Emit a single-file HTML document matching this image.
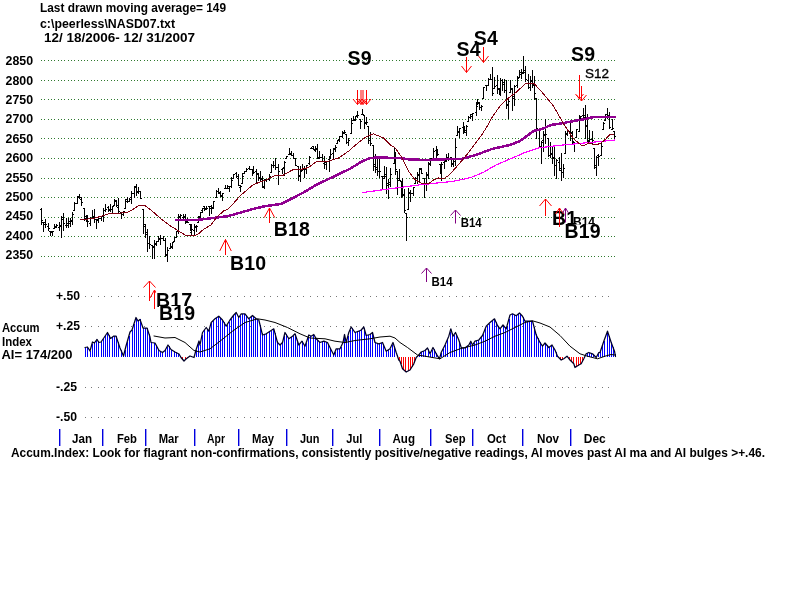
<!DOCTYPE html><html><head><meta charset="utf-8"><title>Peerless NASD07 chart</title>
<style>html,body{margin:0;padding:0;background:#fff;overflow:hidden}svg{display:block;position:absolute;left:0;top:0}text{font-family:"Liberation Sans",Arial,sans-serif;fill:#000}.b{font-weight:bold;font-size:13px}.big{font-weight:bold;font-size:19.5px;letter-spacing:0.15px}.s{font-weight:bold;font-size:12px}</style></head><body>
<svg width="800" height="600" viewBox="0 0 800 600">
<rect width="800" height="600" fill="#fff"/>
<path fill="#2f7a2f" shape-rendering="crispEdges" d="M41 60h1v1h-1zM41 80h1v1h-1zM41 99h1v1h-1zM41 119h1v1h-1zM41 138h1v1h-1zM41 158h1v1h-1zM41 178h1v1h-1zM41 197h1v1h-1zM41 217h1v1h-1zM41 236h1v1h-1zM41 256h1v1h-1zM44 60h1v1h-1zM44 80h1v1h-1zM44 99h1v1h-1zM44 119h1v1h-1zM44 138h1v1h-1zM44 158h1v1h-1zM44 178h1v1h-1zM44 197h1v1h-1zM44 217h1v1h-1zM44 236h1v1h-1zM44 256h1v1h-1zM48 60h1v1h-1zM48 80h1v1h-1zM48 99h1v1h-1zM48 119h1v1h-1zM48 138h1v1h-1zM48 158h1v1h-1zM48 178h1v1h-1zM48 197h1v1h-1zM48 217h1v1h-1zM48 236h1v1h-1zM48 256h1v1h-1zM51 60h1v1h-1zM51 80h1v1h-1zM51 99h1v1h-1zM51 119h1v1h-1zM51 138h1v1h-1zM51 158h1v1h-1zM51 178h1v1h-1zM51 197h1v1h-1zM51 217h1v1h-1zM51 236h1v1h-1zM51 256h1v1h-1zM54 60h1v1h-1zM54 80h1v1h-1zM54 99h1v1h-1zM54 119h1v1h-1zM54 138h1v1h-1zM54 158h1v1h-1zM54 178h1v1h-1zM54 197h1v1h-1zM54 217h1v1h-1zM54 236h1v1h-1zM54 256h1v1h-1zM58 60h1v1h-1zM58 80h1v1h-1zM58 99h1v1h-1zM58 119h1v1h-1zM58 138h1v1h-1zM58 158h1v1h-1zM58 178h1v1h-1zM58 197h1v1h-1zM58 217h1v1h-1zM58 236h1v1h-1zM58 256h1v1h-1zM61 60h1v1h-1zM61 80h1v1h-1zM61 99h1v1h-1zM61 119h1v1h-1zM61 138h1v1h-1zM61 158h1v1h-1zM61 178h1v1h-1zM61 197h1v1h-1zM61 217h1v1h-1zM61 236h1v1h-1zM61 256h1v1h-1zM64 60h1v1h-1zM64 80h1v1h-1zM64 99h1v1h-1zM64 119h1v1h-1zM64 138h1v1h-1zM64 158h1v1h-1zM64 178h1v1h-1zM64 197h1v1h-1zM64 217h1v1h-1zM64 236h1v1h-1zM64 256h1v1h-1zM68 60h1v1h-1zM68 80h1v1h-1zM68 99h1v1h-1zM68 119h1v1h-1zM68 138h1v1h-1zM68 158h1v1h-1zM68 178h1v1h-1zM68 197h1v1h-1zM68 217h1v1h-1zM68 236h1v1h-1zM68 256h1v1h-1zM71 60h1v1h-1zM71 80h1v1h-1zM71 99h1v1h-1zM71 119h1v1h-1zM71 138h1v1h-1zM71 158h1v1h-1zM71 178h1v1h-1zM71 197h1v1h-1zM71 217h1v1h-1zM71 236h1v1h-1zM71 256h1v1h-1zM74 60h1v1h-1zM74 80h1v1h-1zM74 99h1v1h-1zM74 119h1v1h-1zM74 138h1v1h-1zM74 158h1v1h-1zM74 178h1v1h-1zM74 197h1v1h-1zM74 217h1v1h-1zM74 236h1v1h-1zM74 256h1v1h-1zM78 60h1v1h-1zM78 80h1v1h-1zM78 99h1v1h-1zM78 119h1v1h-1zM78 138h1v1h-1zM78 158h1v1h-1zM78 178h1v1h-1zM78 197h1v1h-1zM78 217h1v1h-1zM78 236h1v1h-1zM78 256h1v1h-1zM81 60h1v1h-1zM81 80h1v1h-1zM81 99h1v1h-1zM81 119h1v1h-1zM81 138h1v1h-1zM81 158h1v1h-1zM81 178h1v1h-1zM81 197h1v1h-1zM81 217h1v1h-1zM81 236h1v1h-1zM81 256h1v1h-1zM84 60h1v1h-1zM84 80h1v1h-1zM84 99h1v1h-1zM84 119h1v1h-1zM84 138h1v1h-1zM84 158h1v1h-1zM84 178h1v1h-1zM84 197h1v1h-1zM84 217h1v1h-1zM84 236h1v1h-1zM84 256h1v1h-1zM87 60h1v1h-1zM87 80h1v1h-1zM87 99h1v1h-1zM87 119h1v1h-1zM87 138h1v1h-1zM87 158h1v1h-1zM87 178h1v1h-1zM87 197h1v1h-1zM87 217h1v1h-1zM87 236h1v1h-1zM87 256h1v1h-1zM91 60h1v1h-1zM91 80h1v1h-1zM91 99h1v1h-1zM91 119h1v1h-1zM91 138h1v1h-1zM91 158h1v1h-1zM91 178h1v1h-1zM91 197h1v1h-1zM91 217h1v1h-1zM91 236h1v1h-1zM91 256h1v1h-1zM94 60h1v1h-1zM94 80h1v1h-1zM94 99h1v1h-1zM94 119h1v1h-1zM94 138h1v1h-1zM94 158h1v1h-1zM94 178h1v1h-1zM94 197h1v1h-1zM94 217h1v1h-1zM94 236h1v1h-1zM94 256h1v1h-1zM97 60h1v1h-1zM97 80h1v1h-1zM97 99h1v1h-1zM97 119h1v1h-1zM97 138h1v1h-1zM97 158h1v1h-1zM97 178h1v1h-1zM97 197h1v1h-1zM97 217h1v1h-1zM97 236h1v1h-1zM97 256h1v1h-1zM101 60h1v1h-1zM101 80h1v1h-1zM101 99h1v1h-1zM101 119h1v1h-1zM101 138h1v1h-1zM101 158h1v1h-1zM101 178h1v1h-1zM101 197h1v1h-1zM101 217h1v1h-1zM101 236h1v1h-1zM101 256h1v1h-1zM104 60h1v1h-1zM104 80h1v1h-1zM104 99h1v1h-1zM104 119h1v1h-1zM104 138h1v1h-1zM104 158h1v1h-1zM104 178h1v1h-1zM104 197h1v1h-1zM104 217h1v1h-1zM104 236h1v1h-1zM104 256h1v1h-1zM107 60h1v1h-1zM107 80h1v1h-1zM107 99h1v1h-1zM107 119h1v1h-1zM107 138h1v1h-1zM107 158h1v1h-1zM107 178h1v1h-1zM107 197h1v1h-1zM107 217h1v1h-1zM107 236h1v1h-1zM107 256h1v1h-1zM111 60h1v1h-1zM111 80h1v1h-1zM111 99h1v1h-1zM111 119h1v1h-1zM111 138h1v1h-1zM111 158h1v1h-1zM111 178h1v1h-1zM111 197h1v1h-1zM111 217h1v1h-1zM111 236h1v1h-1zM111 256h1v1h-1zM114 60h1v1h-1zM114 80h1v1h-1zM114 99h1v1h-1zM114 119h1v1h-1zM114 138h1v1h-1zM114 158h1v1h-1zM114 178h1v1h-1zM114 197h1v1h-1zM114 217h1v1h-1zM114 236h1v1h-1zM114 256h1v1h-1zM117 60h1v1h-1zM117 80h1v1h-1zM117 99h1v1h-1zM117 119h1v1h-1zM117 138h1v1h-1zM117 158h1v1h-1zM117 178h1v1h-1zM117 197h1v1h-1zM117 217h1v1h-1zM117 236h1v1h-1zM117 256h1v1h-1zM121 60h1v1h-1zM121 80h1v1h-1zM121 99h1v1h-1zM121 119h1v1h-1zM121 138h1v1h-1zM121 158h1v1h-1zM121 178h1v1h-1zM121 197h1v1h-1zM121 217h1v1h-1zM121 236h1v1h-1zM121 256h1v1h-1zM124 60h1v1h-1zM124 80h1v1h-1zM124 99h1v1h-1zM124 119h1v1h-1zM124 138h1v1h-1zM124 158h1v1h-1zM124 178h1v1h-1zM124 197h1v1h-1zM124 217h1v1h-1zM124 236h1v1h-1zM124 256h1v1h-1zM127 60h1v1h-1zM127 80h1v1h-1zM127 99h1v1h-1zM127 119h1v1h-1zM127 138h1v1h-1zM127 158h1v1h-1zM127 178h1v1h-1zM127 197h1v1h-1zM127 217h1v1h-1zM127 236h1v1h-1zM127 256h1v1h-1zM131 60h1v1h-1zM131 80h1v1h-1zM131 99h1v1h-1zM131 119h1v1h-1zM131 138h1v1h-1zM131 158h1v1h-1zM131 178h1v1h-1zM131 197h1v1h-1zM131 217h1v1h-1zM131 236h1v1h-1zM131 256h1v1h-1zM134 60h1v1h-1zM134 80h1v1h-1zM134 99h1v1h-1zM134 119h1v1h-1zM134 138h1v1h-1zM134 158h1v1h-1zM134 178h1v1h-1zM134 197h1v1h-1zM134 217h1v1h-1zM134 236h1v1h-1zM134 256h1v1h-1zM137 60h1v1h-1zM137 80h1v1h-1zM137 99h1v1h-1zM137 119h1v1h-1zM137 138h1v1h-1zM137 158h1v1h-1zM137 178h1v1h-1zM137 197h1v1h-1zM137 217h1v1h-1zM137 236h1v1h-1zM137 256h1v1h-1zM140 60h1v1h-1zM140 80h1v1h-1zM140 99h1v1h-1zM140 119h1v1h-1zM140 138h1v1h-1zM140 158h1v1h-1zM140 178h1v1h-1zM140 197h1v1h-1zM140 217h1v1h-1zM140 236h1v1h-1zM140 256h1v1h-1zM144 60h1v1h-1zM144 80h1v1h-1zM144 99h1v1h-1zM144 119h1v1h-1zM144 138h1v1h-1zM144 158h1v1h-1zM144 178h1v1h-1zM144 197h1v1h-1zM144 217h1v1h-1zM144 236h1v1h-1zM144 256h1v1h-1zM147 60h1v1h-1zM147 80h1v1h-1zM147 99h1v1h-1zM147 119h1v1h-1zM147 138h1v1h-1zM147 158h1v1h-1zM147 178h1v1h-1zM147 197h1v1h-1zM147 217h1v1h-1zM147 236h1v1h-1zM147 256h1v1h-1zM150 60h1v1h-1zM150 80h1v1h-1zM150 99h1v1h-1zM150 119h1v1h-1zM150 138h1v1h-1zM150 158h1v1h-1zM150 178h1v1h-1zM150 197h1v1h-1zM150 217h1v1h-1zM150 236h1v1h-1zM150 256h1v1h-1zM154 60h1v1h-1zM154 80h1v1h-1zM154 99h1v1h-1zM154 119h1v1h-1zM154 138h1v1h-1zM154 158h1v1h-1zM154 178h1v1h-1zM154 197h1v1h-1zM154 217h1v1h-1zM154 236h1v1h-1zM154 256h1v1h-1zM157 60h1v1h-1zM157 80h1v1h-1zM157 99h1v1h-1zM157 119h1v1h-1zM157 138h1v1h-1zM157 158h1v1h-1zM157 178h1v1h-1zM157 197h1v1h-1zM157 217h1v1h-1zM157 236h1v1h-1zM157 256h1v1h-1zM160 60h1v1h-1zM160 80h1v1h-1zM160 99h1v1h-1zM160 119h1v1h-1zM160 138h1v1h-1zM160 158h1v1h-1zM160 178h1v1h-1zM160 197h1v1h-1zM160 217h1v1h-1zM160 236h1v1h-1zM160 256h1v1h-1zM164 60h1v1h-1zM164 80h1v1h-1zM164 99h1v1h-1zM164 119h1v1h-1zM164 138h1v1h-1zM164 158h1v1h-1zM164 178h1v1h-1zM164 197h1v1h-1zM164 217h1v1h-1zM164 236h1v1h-1zM164 256h1v1h-1zM167 60h1v1h-1zM167 80h1v1h-1zM167 99h1v1h-1zM167 119h1v1h-1zM167 138h1v1h-1zM167 158h1v1h-1zM167 178h1v1h-1zM167 197h1v1h-1zM167 217h1v1h-1zM167 236h1v1h-1zM167 256h1v1h-1zM170 60h1v1h-1zM170 80h1v1h-1zM170 99h1v1h-1zM170 119h1v1h-1zM170 138h1v1h-1zM170 158h1v1h-1zM170 178h1v1h-1zM170 197h1v1h-1zM170 217h1v1h-1zM170 236h1v1h-1zM170 256h1v1h-1zM174 60h1v1h-1zM174 80h1v1h-1zM174 99h1v1h-1zM174 119h1v1h-1zM174 138h1v1h-1zM174 158h1v1h-1zM174 178h1v1h-1zM174 197h1v1h-1zM174 217h1v1h-1zM174 236h1v1h-1zM174 256h1v1h-1zM177 60h1v1h-1zM177 80h1v1h-1zM177 99h1v1h-1zM177 119h1v1h-1zM177 138h1v1h-1zM177 158h1v1h-1zM177 178h1v1h-1zM177 197h1v1h-1zM177 217h1v1h-1zM177 236h1v1h-1zM177 256h1v1h-1zM180 60h1v1h-1zM180 80h1v1h-1zM180 99h1v1h-1zM180 119h1v1h-1zM180 138h1v1h-1zM180 158h1v1h-1zM180 178h1v1h-1zM180 197h1v1h-1zM180 217h1v1h-1zM180 236h1v1h-1zM180 256h1v1h-1zM184 60h1v1h-1zM184 80h1v1h-1zM184 99h1v1h-1zM184 119h1v1h-1zM184 138h1v1h-1zM184 158h1v1h-1zM184 178h1v1h-1zM184 197h1v1h-1zM184 217h1v1h-1zM184 236h1v1h-1zM184 256h1v1h-1zM187 60h1v1h-1zM187 80h1v1h-1zM187 99h1v1h-1zM187 119h1v1h-1zM187 138h1v1h-1zM187 158h1v1h-1zM187 178h1v1h-1zM187 197h1v1h-1zM187 217h1v1h-1zM187 236h1v1h-1zM187 256h1v1h-1zM190 60h1v1h-1zM190 80h1v1h-1zM190 99h1v1h-1zM190 119h1v1h-1zM190 138h1v1h-1zM190 158h1v1h-1zM190 178h1v1h-1zM190 197h1v1h-1zM190 217h1v1h-1zM190 236h1v1h-1zM190 256h1v1h-1zM193 60h1v1h-1zM193 80h1v1h-1zM193 99h1v1h-1zM193 119h1v1h-1zM193 138h1v1h-1zM193 158h1v1h-1zM193 178h1v1h-1zM193 197h1v1h-1zM193 217h1v1h-1zM193 236h1v1h-1zM193 256h1v1h-1zM197 60h1v1h-1zM197 80h1v1h-1zM197 99h1v1h-1zM197 119h1v1h-1zM197 138h1v1h-1zM197 158h1v1h-1zM197 178h1v1h-1zM197 197h1v1h-1zM197 217h1v1h-1zM197 236h1v1h-1zM197 256h1v1h-1zM200 60h1v1h-1zM200 80h1v1h-1zM200 99h1v1h-1zM200 119h1v1h-1zM200 138h1v1h-1zM200 158h1v1h-1zM200 178h1v1h-1zM200 197h1v1h-1zM200 217h1v1h-1zM200 236h1v1h-1zM200 256h1v1h-1zM203 60h1v1h-1zM203 80h1v1h-1zM203 99h1v1h-1zM203 119h1v1h-1zM203 138h1v1h-1zM203 158h1v1h-1zM203 178h1v1h-1zM203 197h1v1h-1zM203 217h1v1h-1zM203 236h1v1h-1zM203 256h1v1h-1zM207 60h1v1h-1zM207 80h1v1h-1zM207 99h1v1h-1zM207 119h1v1h-1zM207 138h1v1h-1zM207 158h1v1h-1zM207 178h1v1h-1zM207 197h1v1h-1zM207 217h1v1h-1zM207 236h1v1h-1zM207 256h1v1h-1zM210 60h1v1h-1zM210 80h1v1h-1zM210 99h1v1h-1zM210 119h1v1h-1zM210 138h1v1h-1zM210 158h1v1h-1zM210 178h1v1h-1zM210 197h1v1h-1zM210 217h1v1h-1zM210 236h1v1h-1zM210 256h1v1h-1zM213 60h1v1h-1zM213 80h1v1h-1zM213 99h1v1h-1zM213 119h1v1h-1zM213 138h1v1h-1zM213 158h1v1h-1zM213 178h1v1h-1zM213 197h1v1h-1zM213 217h1v1h-1zM213 236h1v1h-1zM213 256h1v1h-1zM217 60h1v1h-1zM217 80h1v1h-1zM217 99h1v1h-1zM217 119h1v1h-1zM217 138h1v1h-1zM217 158h1v1h-1zM217 178h1v1h-1zM217 197h1v1h-1zM217 217h1v1h-1zM217 236h1v1h-1zM217 256h1v1h-1zM220 60h1v1h-1zM220 80h1v1h-1zM220 99h1v1h-1zM220 119h1v1h-1zM220 138h1v1h-1zM220 158h1v1h-1zM220 178h1v1h-1zM220 197h1v1h-1zM220 217h1v1h-1zM220 236h1v1h-1zM220 256h1v1h-1zM223 60h1v1h-1zM223 80h1v1h-1zM223 99h1v1h-1zM223 119h1v1h-1zM223 138h1v1h-1zM223 158h1v1h-1zM223 178h1v1h-1zM223 197h1v1h-1zM223 217h1v1h-1zM223 236h1v1h-1zM223 256h1v1h-1zM227 60h1v1h-1zM227 80h1v1h-1zM227 99h1v1h-1zM227 119h1v1h-1zM227 138h1v1h-1zM227 158h1v1h-1zM227 178h1v1h-1zM227 197h1v1h-1zM227 217h1v1h-1zM227 236h1v1h-1zM227 256h1v1h-1zM230 60h1v1h-1zM230 80h1v1h-1zM230 99h1v1h-1zM230 119h1v1h-1zM230 138h1v1h-1zM230 158h1v1h-1zM230 178h1v1h-1zM230 197h1v1h-1zM230 217h1v1h-1zM230 236h1v1h-1zM230 256h1v1h-1zM233 60h1v1h-1zM233 80h1v1h-1zM233 99h1v1h-1zM233 119h1v1h-1zM233 138h1v1h-1zM233 158h1v1h-1zM233 178h1v1h-1zM233 197h1v1h-1zM233 217h1v1h-1zM233 236h1v1h-1zM233 256h1v1h-1zM237 60h1v1h-1zM237 80h1v1h-1zM237 99h1v1h-1zM237 119h1v1h-1zM237 138h1v1h-1zM237 158h1v1h-1zM237 178h1v1h-1zM237 197h1v1h-1zM237 217h1v1h-1zM237 236h1v1h-1zM237 256h1v1h-1zM240 60h1v1h-1zM240 80h1v1h-1zM240 99h1v1h-1zM240 119h1v1h-1zM240 138h1v1h-1zM240 158h1v1h-1zM240 178h1v1h-1zM240 197h1v1h-1zM240 217h1v1h-1zM240 236h1v1h-1zM240 256h1v1h-1zM243 60h1v1h-1zM243 80h1v1h-1zM243 99h1v1h-1zM243 119h1v1h-1zM243 138h1v1h-1zM243 158h1v1h-1zM243 178h1v1h-1zM243 197h1v1h-1zM243 217h1v1h-1zM243 236h1v1h-1zM243 256h1v1h-1zM247 60h1v1h-1zM247 80h1v1h-1zM247 99h1v1h-1zM247 119h1v1h-1zM247 138h1v1h-1zM247 158h1v1h-1zM247 178h1v1h-1zM247 197h1v1h-1zM247 217h1v1h-1zM247 236h1v1h-1zM247 256h1v1h-1zM250 60h1v1h-1zM250 80h1v1h-1zM250 99h1v1h-1zM250 119h1v1h-1zM250 138h1v1h-1zM250 158h1v1h-1zM250 178h1v1h-1zM250 197h1v1h-1zM250 217h1v1h-1zM250 236h1v1h-1zM250 256h1v1h-1zM253 60h1v1h-1zM253 80h1v1h-1zM253 99h1v1h-1zM253 119h1v1h-1zM253 138h1v1h-1zM253 158h1v1h-1zM253 178h1v1h-1zM253 197h1v1h-1zM253 217h1v1h-1zM253 236h1v1h-1zM253 256h1v1h-1zM256 60h1v1h-1zM256 80h1v1h-1zM256 99h1v1h-1zM256 119h1v1h-1zM256 138h1v1h-1zM256 158h1v1h-1zM256 178h1v1h-1zM256 197h1v1h-1zM256 217h1v1h-1zM256 236h1v1h-1zM256 256h1v1h-1zM260 60h1v1h-1zM260 80h1v1h-1zM260 99h1v1h-1zM260 119h1v1h-1zM260 138h1v1h-1zM260 158h1v1h-1zM260 178h1v1h-1zM260 197h1v1h-1zM260 217h1v1h-1zM260 236h1v1h-1zM260 256h1v1h-1zM263 60h1v1h-1zM263 80h1v1h-1zM263 99h1v1h-1zM263 119h1v1h-1zM263 138h1v1h-1zM263 158h1v1h-1zM263 178h1v1h-1zM263 197h1v1h-1zM263 217h1v1h-1zM263 236h1v1h-1zM263 256h1v1h-1zM266 60h1v1h-1zM266 80h1v1h-1zM266 99h1v1h-1zM266 119h1v1h-1zM266 138h1v1h-1zM266 158h1v1h-1zM266 178h1v1h-1zM266 197h1v1h-1zM266 217h1v1h-1zM266 236h1v1h-1zM266 256h1v1h-1zM270 60h1v1h-1zM270 80h1v1h-1zM270 99h1v1h-1zM270 119h1v1h-1zM270 138h1v1h-1zM270 158h1v1h-1zM270 178h1v1h-1zM270 197h1v1h-1zM270 217h1v1h-1zM270 236h1v1h-1zM270 256h1v1h-1zM273 60h1v1h-1zM273 80h1v1h-1zM273 99h1v1h-1zM273 119h1v1h-1zM273 138h1v1h-1zM273 158h1v1h-1zM273 178h1v1h-1zM273 197h1v1h-1zM273 217h1v1h-1zM273 236h1v1h-1zM273 256h1v1h-1zM276 60h1v1h-1zM276 80h1v1h-1zM276 99h1v1h-1zM276 119h1v1h-1zM276 138h1v1h-1zM276 158h1v1h-1zM276 178h1v1h-1zM276 197h1v1h-1zM276 217h1v1h-1zM276 236h1v1h-1zM276 256h1v1h-1zM280 60h1v1h-1zM280 80h1v1h-1zM280 99h1v1h-1zM280 119h1v1h-1zM280 138h1v1h-1zM280 158h1v1h-1zM280 178h1v1h-1zM280 197h1v1h-1zM280 217h1v1h-1zM280 236h1v1h-1zM280 256h1v1h-1zM283 60h1v1h-1zM283 80h1v1h-1zM283 99h1v1h-1zM283 119h1v1h-1zM283 138h1v1h-1zM283 158h1v1h-1zM283 178h1v1h-1zM283 197h1v1h-1zM283 217h1v1h-1zM283 236h1v1h-1zM283 256h1v1h-1zM286 60h1v1h-1zM286 80h1v1h-1zM286 99h1v1h-1zM286 119h1v1h-1zM286 138h1v1h-1zM286 158h1v1h-1zM286 178h1v1h-1zM286 197h1v1h-1zM286 217h1v1h-1zM286 236h1v1h-1zM286 256h1v1h-1zM290 60h1v1h-1zM290 80h1v1h-1zM290 99h1v1h-1zM290 119h1v1h-1zM290 138h1v1h-1zM290 158h1v1h-1zM290 178h1v1h-1zM290 197h1v1h-1zM290 217h1v1h-1zM290 236h1v1h-1zM290 256h1v1h-1zM293 60h1v1h-1zM293 80h1v1h-1zM293 99h1v1h-1zM293 119h1v1h-1zM293 138h1v1h-1zM293 158h1v1h-1zM293 178h1v1h-1zM293 197h1v1h-1zM293 217h1v1h-1zM293 236h1v1h-1zM293 256h1v1h-1zM296 60h1v1h-1zM296 80h1v1h-1zM296 99h1v1h-1zM296 119h1v1h-1zM296 138h1v1h-1zM296 158h1v1h-1zM296 178h1v1h-1zM296 197h1v1h-1zM296 217h1v1h-1zM296 236h1v1h-1zM296 256h1v1h-1zM300 60h1v1h-1zM300 80h1v1h-1zM300 99h1v1h-1zM300 119h1v1h-1zM300 138h1v1h-1zM300 158h1v1h-1zM300 178h1v1h-1zM300 197h1v1h-1zM300 217h1v1h-1zM300 236h1v1h-1zM300 256h1v1h-1zM303 60h1v1h-1zM303 80h1v1h-1zM303 99h1v1h-1zM303 119h1v1h-1zM303 138h1v1h-1zM303 158h1v1h-1zM303 178h1v1h-1zM303 197h1v1h-1zM303 217h1v1h-1zM303 236h1v1h-1zM303 256h1v1h-1zM306 60h1v1h-1zM306 80h1v1h-1zM306 99h1v1h-1zM306 119h1v1h-1zM306 138h1v1h-1zM306 158h1v1h-1zM306 178h1v1h-1zM306 197h1v1h-1zM306 217h1v1h-1zM306 236h1v1h-1zM306 256h1v1h-1zM309 60h1v1h-1zM309 80h1v1h-1zM309 99h1v1h-1zM309 119h1v1h-1zM309 138h1v1h-1zM309 158h1v1h-1zM309 178h1v1h-1zM309 197h1v1h-1zM309 217h1v1h-1zM309 236h1v1h-1zM309 256h1v1h-1zM313 60h1v1h-1zM313 80h1v1h-1zM313 99h1v1h-1zM313 119h1v1h-1zM313 138h1v1h-1zM313 158h1v1h-1zM313 178h1v1h-1zM313 197h1v1h-1zM313 217h1v1h-1zM313 236h1v1h-1zM313 256h1v1h-1zM316 60h1v1h-1zM316 80h1v1h-1zM316 99h1v1h-1zM316 119h1v1h-1zM316 138h1v1h-1zM316 158h1v1h-1zM316 178h1v1h-1zM316 197h1v1h-1zM316 217h1v1h-1zM316 236h1v1h-1zM316 256h1v1h-1zM319 60h1v1h-1zM319 80h1v1h-1zM319 99h1v1h-1zM319 119h1v1h-1zM319 138h1v1h-1zM319 158h1v1h-1zM319 178h1v1h-1zM319 197h1v1h-1zM319 217h1v1h-1zM319 236h1v1h-1zM319 256h1v1h-1zM323 60h1v1h-1zM323 80h1v1h-1zM323 99h1v1h-1zM323 119h1v1h-1zM323 138h1v1h-1zM323 158h1v1h-1zM323 178h1v1h-1zM323 197h1v1h-1zM323 217h1v1h-1zM323 236h1v1h-1zM323 256h1v1h-1zM326 60h1v1h-1zM326 80h1v1h-1zM326 99h1v1h-1zM326 119h1v1h-1zM326 138h1v1h-1zM326 158h1v1h-1zM326 178h1v1h-1zM326 197h1v1h-1zM326 217h1v1h-1zM326 236h1v1h-1zM326 256h1v1h-1zM329 60h1v1h-1zM329 80h1v1h-1zM329 99h1v1h-1zM329 119h1v1h-1zM329 138h1v1h-1zM329 158h1v1h-1zM329 178h1v1h-1zM329 197h1v1h-1zM329 217h1v1h-1zM329 236h1v1h-1zM329 256h1v1h-1zM333 60h1v1h-1zM333 80h1v1h-1zM333 99h1v1h-1zM333 119h1v1h-1zM333 138h1v1h-1zM333 158h1v1h-1zM333 178h1v1h-1zM333 197h1v1h-1zM333 217h1v1h-1zM333 236h1v1h-1zM333 256h1v1h-1zM336 60h1v1h-1zM336 80h1v1h-1zM336 99h1v1h-1zM336 119h1v1h-1zM336 138h1v1h-1zM336 158h1v1h-1zM336 178h1v1h-1zM336 197h1v1h-1zM336 217h1v1h-1zM336 236h1v1h-1zM336 256h1v1h-1zM339 60h1v1h-1zM339 80h1v1h-1zM339 99h1v1h-1zM339 119h1v1h-1zM339 138h1v1h-1zM339 158h1v1h-1zM339 178h1v1h-1zM339 197h1v1h-1zM339 217h1v1h-1zM339 236h1v1h-1zM339 256h1v1h-1zM343 60h1v1h-1zM343 80h1v1h-1zM343 99h1v1h-1zM343 119h1v1h-1zM343 138h1v1h-1zM343 158h1v1h-1zM343 178h1v1h-1zM343 197h1v1h-1zM343 217h1v1h-1zM343 236h1v1h-1zM343 256h1v1h-1zM346 60h1v1h-1zM346 80h1v1h-1zM346 99h1v1h-1zM346 119h1v1h-1zM346 138h1v1h-1zM346 158h1v1h-1zM346 178h1v1h-1zM346 197h1v1h-1zM346 217h1v1h-1zM346 236h1v1h-1zM346 256h1v1h-1zM349 60h1v1h-1zM349 80h1v1h-1zM349 99h1v1h-1zM349 119h1v1h-1zM349 138h1v1h-1zM349 158h1v1h-1zM349 178h1v1h-1zM349 197h1v1h-1zM349 217h1v1h-1zM349 236h1v1h-1zM349 256h1v1h-1zM353 60h1v1h-1zM353 80h1v1h-1zM353 99h1v1h-1zM353 119h1v1h-1zM353 138h1v1h-1zM353 158h1v1h-1zM353 178h1v1h-1zM353 197h1v1h-1zM353 217h1v1h-1zM353 236h1v1h-1zM353 256h1v1h-1zM356 60h1v1h-1zM356 80h1v1h-1zM356 99h1v1h-1zM356 119h1v1h-1zM356 138h1v1h-1zM356 158h1v1h-1zM356 178h1v1h-1zM356 197h1v1h-1zM356 217h1v1h-1zM356 236h1v1h-1zM356 256h1v1h-1zM359 60h1v1h-1zM359 80h1v1h-1zM359 99h1v1h-1zM359 119h1v1h-1zM359 138h1v1h-1zM359 158h1v1h-1zM359 178h1v1h-1zM359 197h1v1h-1zM359 217h1v1h-1zM359 236h1v1h-1zM359 256h1v1h-1zM362 60h1v1h-1zM362 80h1v1h-1zM362 99h1v1h-1zM362 119h1v1h-1zM362 138h1v1h-1zM362 158h1v1h-1zM362 178h1v1h-1zM362 197h1v1h-1zM362 217h1v1h-1zM362 236h1v1h-1zM362 256h1v1h-1zM366 60h1v1h-1zM366 80h1v1h-1zM366 99h1v1h-1zM366 119h1v1h-1zM366 138h1v1h-1zM366 158h1v1h-1zM366 178h1v1h-1zM366 197h1v1h-1zM366 217h1v1h-1zM366 236h1v1h-1zM366 256h1v1h-1zM369 60h1v1h-1zM369 80h1v1h-1zM369 99h1v1h-1zM369 119h1v1h-1zM369 138h1v1h-1zM369 158h1v1h-1zM369 178h1v1h-1zM369 197h1v1h-1zM369 217h1v1h-1zM369 236h1v1h-1zM369 256h1v1h-1zM372 60h1v1h-1zM372 80h1v1h-1zM372 99h1v1h-1zM372 119h1v1h-1zM372 138h1v1h-1zM372 158h1v1h-1zM372 178h1v1h-1zM372 197h1v1h-1zM372 217h1v1h-1zM372 236h1v1h-1zM372 256h1v1h-1zM376 60h1v1h-1zM376 80h1v1h-1zM376 99h1v1h-1zM376 119h1v1h-1zM376 138h1v1h-1zM376 158h1v1h-1zM376 178h1v1h-1zM376 197h1v1h-1zM376 217h1v1h-1zM376 236h1v1h-1zM376 256h1v1h-1zM379 60h1v1h-1zM379 80h1v1h-1zM379 99h1v1h-1zM379 119h1v1h-1zM379 138h1v1h-1zM379 158h1v1h-1zM379 178h1v1h-1zM379 197h1v1h-1zM379 217h1v1h-1zM379 236h1v1h-1zM379 256h1v1h-1zM382 60h1v1h-1zM382 80h1v1h-1zM382 99h1v1h-1zM382 119h1v1h-1zM382 138h1v1h-1zM382 158h1v1h-1zM382 178h1v1h-1zM382 197h1v1h-1zM382 217h1v1h-1zM382 236h1v1h-1zM382 256h1v1h-1zM386 60h1v1h-1zM386 80h1v1h-1zM386 99h1v1h-1zM386 119h1v1h-1zM386 138h1v1h-1zM386 158h1v1h-1zM386 178h1v1h-1zM386 197h1v1h-1zM386 217h1v1h-1zM386 236h1v1h-1zM386 256h1v1h-1zM389 60h1v1h-1zM389 80h1v1h-1zM389 99h1v1h-1zM389 119h1v1h-1zM389 138h1v1h-1zM389 158h1v1h-1zM389 178h1v1h-1zM389 197h1v1h-1zM389 217h1v1h-1zM389 236h1v1h-1zM389 256h1v1h-1zM392 60h1v1h-1zM392 80h1v1h-1zM392 99h1v1h-1zM392 119h1v1h-1zM392 138h1v1h-1zM392 158h1v1h-1zM392 178h1v1h-1zM392 197h1v1h-1zM392 217h1v1h-1zM392 236h1v1h-1zM392 256h1v1h-1zM396 60h1v1h-1zM396 80h1v1h-1zM396 99h1v1h-1zM396 119h1v1h-1zM396 138h1v1h-1zM396 158h1v1h-1zM396 178h1v1h-1zM396 197h1v1h-1zM396 217h1v1h-1zM396 236h1v1h-1zM396 256h1v1h-1zM399 60h1v1h-1zM399 80h1v1h-1zM399 99h1v1h-1zM399 119h1v1h-1zM399 138h1v1h-1zM399 158h1v1h-1zM399 178h1v1h-1zM399 197h1v1h-1zM399 217h1v1h-1zM399 236h1v1h-1zM399 256h1v1h-1zM402 60h1v1h-1zM402 80h1v1h-1zM402 99h1v1h-1zM402 119h1v1h-1zM402 138h1v1h-1zM402 158h1v1h-1zM402 178h1v1h-1zM402 197h1v1h-1zM402 217h1v1h-1zM402 236h1v1h-1zM402 256h1v1h-1zM406 60h1v1h-1zM406 80h1v1h-1zM406 99h1v1h-1zM406 119h1v1h-1zM406 138h1v1h-1zM406 158h1v1h-1zM406 178h1v1h-1zM406 197h1v1h-1zM406 217h1v1h-1zM406 236h1v1h-1zM406 256h1v1h-1zM409 60h1v1h-1zM409 80h1v1h-1zM409 99h1v1h-1zM409 119h1v1h-1zM409 138h1v1h-1zM409 158h1v1h-1zM409 178h1v1h-1zM409 197h1v1h-1zM409 217h1v1h-1zM409 236h1v1h-1zM409 256h1v1h-1zM412 60h1v1h-1zM412 80h1v1h-1zM412 99h1v1h-1zM412 119h1v1h-1zM412 138h1v1h-1zM412 158h1v1h-1zM412 178h1v1h-1zM412 197h1v1h-1zM412 217h1v1h-1zM412 236h1v1h-1zM412 256h1v1h-1zM415 60h1v1h-1zM415 80h1v1h-1zM415 99h1v1h-1zM415 119h1v1h-1zM415 138h1v1h-1zM415 158h1v1h-1zM415 178h1v1h-1zM415 197h1v1h-1zM415 217h1v1h-1zM415 236h1v1h-1zM415 256h1v1h-1zM419 60h1v1h-1zM419 80h1v1h-1zM419 99h1v1h-1zM419 119h1v1h-1zM419 138h1v1h-1zM419 158h1v1h-1zM419 178h1v1h-1zM419 197h1v1h-1zM419 217h1v1h-1zM419 236h1v1h-1zM419 256h1v1h-1zM422 60h1v1h-1zM422 80h1v1h-1zM422 99h1v1h-1zM422 119h1v1h-1zM422 138h1v1h-1zM422 158h1v1h-1zM422 178h1v1h-1zM422 197h1v1h-1zM422 217h1v1h-1zM422 236h1v1h-1zM422 256h1v1h-1zM425 60h1v1h-1zM425 80h1v1h-1zM425 99h1v1h-1zM425 119h1v1h-1zM425 138h1v1h-1zM425 158h1v1h-1zM425 178h1v1h-1zM425 197h1v1h-1zM425 217h1v1h-1zM425 236h1v1h-1zM425 256h1v1h-1zM429 60h1v1h-1zM429 80h1v1h-1zM429 99h1v1h-1zM429 119h1v1h-1zM429 138h1v1h-1zM429 158h1v1h-1zM429 178h1v1h-1zM429 197h1v1h-1zM429 217h1v1h-1zM429 236h1v1h-1zM429 256h1v1h-1zM432 60h1v1h-1zM432 80h1v1h-1zM432 99h1v1h-1zM432 119h1v1h-1zM432 138h1v1h-1zM432 158h1v1h-1zM432 178h1v1h-1zM432 197h1v1h-1zM432 217h1v1h-1zM432 236h1v1h-1zM432 256h1v1h-1zM435 60h1v1h-1zM435 80h1v1h-1zM435 99h1v1h-1zM435 119h1v1h-1zM435 138h1v1h-1zM435 158h1v1h-1zM435 178h1v1h-1zM435 197h1v1h-1zM435 217h1v1h-1zM435 236h1v1h-1zM435 256h1v1h-1zM439 60h1v1h-1zM439 80h1v1h-1zM439 99h1v1h-1zM439 119h1v1h-1zM439 138h1v1h-1zM439 158h1v1h-1zM439 178h1v1h-1zM439 197h1v1h-1zM439 217h1v1h-1zM439 236h1v1h-1zM439 256h1v1h-1zM442 60h1v1h-1zM442 80h1v1h-1zM442 99h1v1h-1zM442 119h1v1h-1zM442 138h1v1h-1zM442 158h1v1h-1zM442 178h1v1h-1zM442 197h1v1h-1zM442 217h1v1h-1zM442 236h1v1h-1zM442 256h1v1h-1zM445 60h1v1h-1zM445 80h1v1h-1zM445 99h1v1h-1zM445 119h1v1h-1zM445 138h1v1h-1zM445 158h1v1h-1zM445 178h1v1h-1zM445 197h1v1h-1zM445 217h1v1h-1zM445 236h1v1h-1zM445 256h1v1h-1zM449 60h1v1h-1zM449 80h1v1h-1zM449 99h1v1h-1zM449 119h1v1h-1zM449 138h1v1h-1zM449 158h1v1h-1zM449 178h1v1h-1zM449 197h1v1h-1zM449 217h1v1h-1zM449 236h1v1h-1zM449 256h1v1h-1zM452 60h1v1h-1zM452 80h1v1h-1zM452 99h1v1h-1zM452 119h1v1h-1zM452 138h1v1h-1zM452 158h1v1h-1zM452 178h1v1h-1zM452 197h1v1h-1zM452 217h1v1h-1zM452 236h1v1h-1zM452 256h1v1h-1zM455 60h1v1h-1zM455 80h1v1h-1zM455 99h1v1h-1zM455 119h1v1h-1zM455 138h1v1h-1zM455 158h1v1h-1zM455 178h1v1h-1zM455 197h1v1h-1zM455 217h1v1h-1zM455 236h1v1h-1zM455 256h1v1h-1zM459 60h1v1h-1zM459 80h1v1h-1zM459 99h1v1h-1zM459 119h1v1h-1zM459 138h1v1h-1zM459 158h1v1h-1zM459 178h1v1h-1zM459 197h1v1h-1zM459 217h1v1h-1zM459 236h1v1h-1zM459 256h1v1h-1zM462 60h1v1h-1zM462 80h1v1h-1zM462 99h1v1h-1zM462 119h1v1h-1zM462 138h1v1h-1zM462 158h1v1h-1zM462 178h1v1h-1zM462 197h1v1h-1zM462 217h1v1h-1zM462 236h1v1h-1zM462 256h1v1h-1zM465 60h1v1h-1zM465 80h1v1h-1zM465 99h1v1h-1zM465 119h1v1h-1zM465 138h1v1h-1zM465 158h1v1h-1zM465 178h1v1h-1zM465 197h1v1h-1zM465 217h1v1h-1zM465 236h1v1h-1zM465 256h1v1h-1zM468 60h1v1h-1zM468 80h1v1h-1zM468 99h1v1h-1zM468 119h1v1h-1zM468 138h1v1h-1zM468 158h1v1h-1zM468 178h1v1h-1zM468 197h1v1h-1zM468 217h1v1h-1zM468 236h1v1h-1zM468 256h1v1h-1zM472 60h1v1h-1zM472 80h1v1h-1zM472 99h1v1h-1zM472 119h1v1h-1zM472 138h1v1h-1zM472 158h1v1h-1zM472 178h1v1h-1zM472 197h1v1h-1zM472 217h1v1h-1zM472 236h1v1h-1zM472 256h1v1h-1zM475 60h1v1h-1zM475 80h1v1h-1zM475 99h1v1h-1zM475 119h1v1h-1zM475 138h1v1h-1zM475 158h1v1h-1zM475 178h1v1h-1zM475 197h1v1h-1zM475 217h1v1h-1zM475 236h1v1h-1zM475 256h1v1h-1zM478 60h1v1h-1zM478 80h1v1h-1zM478 99h1v1h-1zM478 119h1v1h-1zM478 138h1v1h-1zM478 158h1v1h-1zM478 178h1v1h-1zM478 197h1v1h-1zM478 217h1v1h-1zM478 236h1v1h-1zM478 256h1v1h-1zM482 60h1v1h-1zM482 80h1v1h-1zM482 99h1v1h-1zM482 119h1v1h-1zM482 138h1v1h-1zM482 158h1v1h-1zM482 178h1v1h-1zM482 197h1v1h-1zM482 217h1v1h-1zM482 236h1v1h-1zM482 256h1v1h-1zM485 60h1v1h-1zM485 80h1v1h-1zM485 99h1v1h-1zM485 119h1v1h-1zM485 138h1v1h-1zM485 158h1v1h-1zM485 178h1v1h-1zM485 197h1v1h-1zM485 217h1v1h-1zM485 236h1v1h-1zM485 256h1v1h-1zM488 60h1v1h-1zM488 80h1v1h-1zM488 99h1v1h-1zM488 119h1v1h-1zM488 138h1v1h-1zM488 158h1v1h-1zM488 178h1v1h-1zM488 197h1v1h-1zM488 217h1v1h-1zM488 236h1v1h-1zM488 256h1v1h-1zM492 60h1v1h-1zM492 80h1v1h-1zM492 99h1v1h-1zM492 119h1v1h-1zM492 138h1v1h-1zM492 158h1v1h-1zM492 178h1v1h-1zM492 197h1v1h-1zM492 217h1v1h-1zM492 236h1v1h-1zM492 256h1v1h-1zM495 60h1v1h-1zM495 80h1v1h-1zM495 99h1v1h-1zM495 119h1v1h-1zM495 138h1v1h-1zM495 158h1v1h-1zM495 178h1v1h-1zM495 197h1v1h-1zM495 217h1v1h-1zM495 236h1v1h-1zM495 256h1v1h-1zM498 60h1v1h-1zM498 80h1v1h-1zM498 99h1v1h-1zM498 119h1v1h-1zM498 138h1v1h-1zM498 158h1v1h-1zM498 178h1v1h-1zM498 197h1v1h-1zM498 217h1v1h-1zM498 236h1v1h-1zM498 256h1v1h-1zM502 60h1v1h-1zM502 80h1v1h-1zM502 99h1v1h-1zM502 119h1v1h-1zM502 138h1v1h-1zM502 158h1v1h-1zM502 178h1v1h-1zM502 197h1v1h-1zM502 217h1v1h-1zM502 236h1v1h-1zM502 256h1v1h-1zM505 60h1v1h-1zM505 80h1v1h-1zM505 99h1v1h-1zM505 119h1v1h-1zM505 138h1v1h-1zM505 158h1v1h-1zM505 178h1v1h-1zM505 197h1v1h-1zM505 217h1v1h-1zM505 236h1v1h-1zM505 256h1v1h-1zM508 60h1v1h-1zM508 80h1v1h-1zM508 99h1v1h-1zM508 119h1v1h-1zM508 138h1v1h-1zM508 158h1v1h-1zM508 178h1v1h-1zM508 197h1v1h-1zM508 217h1v1h-1zM508 236h1v1h-1zM508 256h1v1h-1zM512 60h1v1h-1zM512 80h1v1h-1zM512 99h1v1h-1zM512 119h1v1h-1zM512 138h1v1h-1zM512 158h1v1h-1zM512 178h1v1h-1zM512 197h1v1h-1zM512 217h1v1h-1zM512 236h1v1h-1zM512 256h1v1h-1zM515 60h1v1h-1zM515 80h1v1h-1zM515 99h1v1h-1zM515 119h1v1h-1zM515 138h1v1h-1zM515 158h1v1h-1zM515 178h1v1h-1zM515 197h1v1h-1zM515 217h1v1h-1zM515 236h1v1h-1zM515 256h1v1h-1zM518 60h1v1h-1zM518 80h1v1h-1zM518 99h1v1h-1zM518 119h1v1h-1zM518 138h1v1h-1zM518 158h1v1h-1zM518 178h1v1h-1zM518 197h1v1h-1zM518 217h1v1h-1zM518 236h1v1h-1zM518 256h1v1h-1zM521 60h1v1h-1zM521 80h1v1h-1zM521 99h1v1h-1zM521 119h1v1h-1zM521 138h1v1h-1zM521 158h1v1h-1zM521 178h1v1h-1zM521 197h1v1h-1zM521 217h1v1h-1zM521 236h1v1h-1zM521 256h1v1h-1zM525 60h1v1h-1zM525 80h1v1h-1zM525 99h1v1h-1zM525 119h1v1h-1zM525 138h1v1h-1zM525 158h1v1h-1zM525 178h1v1h-1zM525 197h1v1h-1zM525 217h1v1h-1zM525 236h1v1h-1zM525 256h1v1h-1zM528 60h1v1h-1zM528 80h1v1h-1zM528 99h1v1h-1zM528 119h1v1h-1zM528 138h1v1h-1zM528 158h1v1h-1zM528 178h1v1h-1zM528 197h1v1h-1zM528 217h1v1h-1zM528 236h1v1h-1zM528 256h1v1h-1zM531 60h1v1h-1zM531 80h1v1h-1zM531 99h1v1h-1zM531 119h1v1h-1zM531 138h1v1h-1zM531 158h1v1h-1zM531 178h1v1h-1zM531 197h1v1h-1zM531 217h1v1h-1zM531 236h1v1h-1zM531 256h1v1h-1zM535 60h1v1h-1zM535 80h1v1h-1zM535 99h1v1h-1zM535 119h1v1h-1zM535 138h1v1h-1zM535 158h1v1h-1zM535 178h1v1h-1zM535 197h1v1h-1zM535 217h1v1h-1zM535 236h1v1h-1zM535 256h1v1h-1zM538 60h1v1h-1zM538 80h1v1h-1zM538 99h1v1h-1zM538 119h1v1h-1zM538 138h1v1h-1zM538 158h1v1h-1zM538 178h1v1h-1zM538 197h1v1h-1zM538 217h1v1h-1zM538 236h1v1h-1zM538 256h1v1h-1zM541 60h1v1h-1zM541 80h1v1h-1zM541 99h1v1h-1zM541 119h1v1h-1zM541 138h1v1h-1zM541 158h1v1h-1zM541 178h1v1h-1zM541 197h1v1h-1zM541 217h1v1h-1zM541 236h1v1h-1zM541 256h1v1h-1zM545 60h1v1h-1zM545 80h1v1h-1zM545 99h1v1h-1zM545 119h1v1h-1zM545 138h1v1h-1zM545 158h1v1h-1zM545 178h1v1h-1zM545 197h1v1h-1zM545 217h1v1h-1zM545 236h1v1h-1zM545 256h1v1h-1zM548 60h1v1h-1zM548 80h1v1h-1zM548 99h1v1h-1zM548 119h1v1h-1zM548 138h1v1h-1zM548 158h1v1h-1zM548 178h1v1h-1zM548 197h1v1h-1zM548 217h1v1h-1zM548 236h1v1h-1zM548 256h1v1h-1zM551 60h1v1h-1zM551 80h1v1h-1zM551 99h1v1h-1zM551 119h1v1h-1zM551 138h1v1h-1zM551 158h1v1h-1zM551 178h1v1h-1zM551 197h1v1h-1zM551 217h1v1h-1zM551 236h1v1h-1zM551 256h1v1h-1zM555 60h1v1h-1zM555 80h1v1h-1zM555 99h1v1h-1zM555 119h1v1h-1zM555 138h1v1h-1zM555 158h1v1h-1zM555 178h1v1h-1zM555 197h1v1h-1zM555 217h1v1h-1zM555 236h1v1h-1zM555 256h1v1h-1zM558 60h1v1h-1zM558 80h1v1h-1zM558 99h1v1h-1zM558 119h1v1h-1zM558 138h1v1h-1zM558 158h1v1h-1zM558 178h1v1h-1zM558 197h1v1h-1zM558 217h1v1h-1zM558 236h1v1h-1zM558 256h1v1h-1zM561 60h1v1h-1zM561 80h1v1h-1zM561 99h1v1h-1zM561 119h1v1h-1zM561 138h1v1h-1zM561 158h1v1h-1zM561 178h1v1h-1zM561 197h1v1h-1zM561 217h1v1h-1zM561 236h1v1h-1zM561 256h1v1h-1zM565 60h1v1h-1zM565 80h1v1h-1zM565 99h1v1h-1zM565 119h1v1h-1zM565 138h1v1h-1zM565 158h1v1h-1zM565 178h1v1h-1zM565 197h1v1h-1zM565 217h1v1h-1zM565 236h1v1h-1zM565 256h1v1h-1zM568 60h1v1h-1zM568 80h1v1h-1zM568 99h1v1h-1zM568 119h1v1h-1zM568 138h1v1h-1zM568 158h1v1h-1zM568 178h1v1h-1zM568 197h1v1h-1zM568 217h1v1h-1zM568 236h1v1h-1zM568 256h1v1h-1zM571 60h1v1h-1zM571 80h1v1h-1zM571 99h1v1h-1zM571 119h1v1h-1zM571 138h1v1h-1zM571 158h1v1h-1zM571 178h1v1h-1zM571 197h1v1h-1zM571 217h1v1h-1zM571 236h1v1h-1zM571 256h1v1h-1zM574 60h1v1h-1zM574 80h1v1h-1zM574 99h1v1h-1zM574 119h1v1h-1zM574 138h1v1h-1zM574 158h1v1h-1zM574 178h1v1h-1zM574 197h1v1h-1zM574 217h1v1h-1zM574 236h1v1h-1zM574 256h1v1h-1zM578 60h1v1h-1zM578 80h1v1h-1zM578 99h1v1h-1zM578 119h1v1h-1zM578 138h1v1h-1zM578 158h1v1h-1zM578 178h1v1h-1zM578 197h1v1h-1zM578 217h1v1h-1zM578 236h1v1h-1zM578 256h1v1h-1zM581 60h1v1h-1zM581 80h1v1h-1zM581 99h1v1h-1zM581 119h1v1h-1zM581 138h1v1h-1zM581 158h1v1h-1zM581 178h1v1h-1zM581 197h1v1h-1zM581 217h1v1h-1zM581 236h1v1h-1zM581 256h1v1h-1zM584 60h1v1h-1zM584 80h1v1h-1zM584 99h1v1h-1zM584 119h1v1h-1zM584 138h1v1h-1zM584 158h1v1h-1zM584 178h1v1h-1zM584 197h1v1h-1zM584 217h1v1h-1zM584 236h1v1h-1zM584 256h1v1h-1zM588 60h1v1h-1zM588 80h1v1h-1zM588 99h1v1h-1zM588 119h1v1h-1zM588 138h1v1h-1zM588 158h1v1h-1zM588 178h1v1h-1zM588 197h1v1h-1zM588 217h1v1h-1zM588 236h1v1h-1zM588 256h1v1h-1zM591 60h1v1h-1zM591 80h1v1h-1zM591 99h1v1h-1zM591 119h1v1h-1zM591 138h1v1h-1zM591 158h1v1h-1zM591 178h1v1h-1zM591 197h1v1h-1zM591 217h1v1h-1zM591 236h1v1h-1zM591 256h1v1h-1zM594 60h1v1h-1zM594 80h1v1h-1zM594 99h1v1h-1zM594 119h1v1h-1zM594 138h1v1h-1zM594 158h1v1h-1zM594 178h1v1h-1zM594 197h1v1h-1zM594 217h1v1h-1zM594 236h1v1h-1zM594 256h1v1h-1zM598 60h1v1h-1zM598 80h1v1h-1zM598 99h1v1h-1zM598 119h1v1h-1zM598 138h1v1h-1zM598 158h1v1h-1zM598 178h1v1h-1zM598 197h1v1h-1zM598 217h1v1h-1zM598 236h1v1h-1zM598 256h1v1h-1zM601 60h1v1h-1zM601 80h1v1h-1zM601 99h1v1h-1zM601 119h1v1h-1zM601 138h1v1h-1zM601 158h1v1h-1zM601 178h1v1h-1zM601 197h1v1h-1zM601 217h1v1h-1zM601 236h1v1h-1zM601 256h1v1h-1zM604 60h1v1h-1zM604 80h1v1h-1zM604 99h1v1h-1zM604 119h1v1h-1zM604 138h1v1h-1zM604 158h1v1h-1zM604 178h1v1h-1zM604 197h1v1h-1zM604 217h1v1h-1zM604 236h1v1h-1zM604 256h1v1h-1zM608 60h1v1h-1zM608 80h1v1h-1zM608 99h1v1h-1zM608 119h1v1h-1zM608 138h1v1h-1zM608 158h1v1h-1zM608 178h1v1h-1zM608 197h1v1h-1zM608 217h1v1h-1zM608 236h1v1h-1zM608 256h1v1h-1zM611 60h1v1h-1zM611 80h1v1h-1zM611 99h1v1h-1zM611 119h1v1h-1zM611 138h1v1h-1zM611 158h1v1h-1zM611 178h1v1h-1zM611 197h1v1h-1zM611 217h1v1h-1zM611 236h1v1h-1zM611 256h1v1h-1zM614 60h1v1h-1zM614 80h1v1h-1zM614 99h1v1h-1zM614 119h1v1h-1zM614 138h1v1h-1zM614 158h1v1h-1zM614 178h1v1h-1zM614 197h1v1h-1zM614 217h1v1h-1zM614 236h1v1h-1zM614 256h1v1h-1z"/>
<path fill="#777" shape-rendering="crispEdges" d="M85 296h1v1h-1zM85 326h1v1h-1zM85 387h1v1h-1zM85 417h1v1h-1zM91 296h1v1h-1zM91 326h1v1h-1zM91 387h1v1h-1zM91 417h1v1h-1zM98 296h1v1h-1zM98 326h1v1h-1zM98 387h1v1h-1zM98 417h1v1h-1zM104 296h1v1h-1zM104 326h1v1h-1zM104 387h1v1h-1zM104 417h1v1h-1zM111 296h1v1h-1zM111 326h1v1h-1zM111 387h1v1h-1zM111 417h1v1h-1zM118 296h1v1h-1zM118 326h1v1h-1zM118 387h1v1h-1zM118 417h1v1h-1zM124 296h1v1h-1zM124 326h1v1h-1zM124 387h1v1h-1zM124 417h1v1h-1zM131 296h1v1h-1zM131 326h1v1h-1zM131 387h1v1h-1zM131 417h1v1h-1zM138 296h1v1h-1zM138 326h1v1h-1zM138 387h1v1h-1zM138 417h1v1h-1zM144 296h1v1h-1zM144 326h1v1h-1zM144 387h1v1h-1zM144 417h1v1h-1zM151 296h1v1h-1zM151 326h1v1h-1zM151 387h1v1h-1zM151 417h1v1h-1zM157 296h1v1h-1zM157 326h1v1h-1zM157 387h1v1h-1zM157 417h1v1h-1zM164 296h1v1h-1zM164 326h1v1h-1zM164 387h1v1h-1zM164 417h1v1h-1zM171 296h1v1h-1zM171 326h1v1h-1zM171 387h1v1h-1zM171 417h1v1h-1zM177 296h1v1h-1zM177 326h1v1h-1zM177 387h1v1h-1zM177 417h1v1h-1zM184 296h1v1h-1zM184 326h1v1h-1zM184 387h1v1h-1zM184 417h1v1h-1zM191 296h1v1h-1zM191 326h1v1h-1zM191 387h1v1h-1zM191 417h1v1h-1zM197 296h1v1h-1zM197 326h1v1h-1zM197 387h1v1h-1zM197 417h1v1h-1zM204 296h1v1h-1zM204 326h1v1h-1zM204 387h1v1h-1zM204 417h1v1h-1zM211 296h1v1h-1zM211 326h1v1h-1zM211 387h1v1h-1zM211 417h1v1h-1zM217 296h1v1h-1zM217 326h1v1h-1zM217 387h1v1h-1zM217 417h1v1h-1zM224 296h1v1h-1zM224 326h1v1h-1zM224 387h1v1h-1zM224 417h1v1h-1zM230 296h1v1h-1zM230 326h1v1h-1zM230 387h1v1h-1zM230 417h1v1h-1zM237 296h1v1h-1zM237 326h1v1h-1zM237 387h1v1h-1zM237 417h1v1h-1zM244 296h1v1h-1zM244 326h1v1h-1zM244 387h1v1h-1zM244 417h1v1h-1zM250 296h1v1h-1zM250 326h1v1h-1zM250 387h1v1h-1zM250 417h1v1h-1zM257 296h1v1h-1zM257 326h1v1h-1zM257 387h1v1h-1zM257 417h1v1h-1zM264 296h1v1h-1zM264 326h1v1h-1zM264 387h1v1h-1zM264 417h1v1h-1zM270 296h1v1h-1zM270 326h1v1h-1zM270 387h1v1h-1zM270 417h1v1h-1zM277 296h1v1h-1zM277 326h1v1h-1zM277 387h1v1h-1zM277 417h1v1h-1zM283 296h1v1h-1zM283 326h1v1h-1zM283 387h1v1h-1zM283 417h1v1h-1zM290 296h1v1h-1zM290 326h1v1h-1zM290 387h1v1h-1zM290 417h1v1h-1zM297 296h1v1h-1zM297 326h1v1h-1zM297 387h1v1h-1zM297 417h1v1h-1zM303 296h1v1h-1zM303 326h1v1h-1zM303 387h1v1h-1zM303 417h1v1h-1zM310 296h1v1h-1zM310 326h1v1h-1zM310 387h1v1h-1zM310 417h1v1h-1zM317 296h1v1h-1zM317 326h1v1h-1zM317 387h1v1h-1zM317 417h1v1h-1zM323 296h1v1h-1zM323 326h1v1h-1zM323 387h1v1h-1zM323 417h1v1h-1zM330 296h1v1h-1zM330 326h1v1h-1zM330 387h1v1h-1zM330 417h1v1h-1zM336 296h1v1h-1zM336 326h1v1h-1zM336 387h1v1h-1zM336 417h1v1h-1zM343 296h1v1h-1zM343 326h1v1h-1zM343 387h1v1h-1zM343 417h1v1h-1zM350 296h1v1h-1zM350 326h1v1h-1zM350 387h1v1h-1zM350 417h1v1h-1zM356 296h1v1h-1zM356 326h1v1h-1zM356 387h1v1h-1zM356 417h1v1h-1zM363 296h1v1h-1zM363 326h1v1h-1zM363 387h1v1h-1zM363 417h1v1h-1zM370 296h1v1h-1zM370 326h1v1h-1zM370 387h1v1h-1zM370 417h1v1h-1zM376 296h1v1h-1zM376 326h1v1h-1zM376 387h1v1h-1zM376 417h1v1h-1zM383 296h1v1h-1zM383 326h1v1h-1zM383 387h1v1h-1zM383 417h1v1h-1zM389 296h1v1h-1zM389 326h1v1h-1zM389 387h1v1h-1zM389 417h1v1h-1zM396 296h1v1h-1zM396 326h1v1h-1zM396 387h1v1h-1zM396 417h1v1h-1zM403 296h1v1h-1zM403 326h1v1h-1zM403 387h1v1h-1zM403 417h1v1h-1zM409 296h1v1h-1zM409 326h1v1h-1zM409 387h1v1h-1zM409 417h1v1h-1zM416 296h1v1h-1zM416 326h1v1h-1zM416 387h1v1h-1zM416 417h1v1h-1zM423 296h1v1h-1zM423 326h1v1h-1zM423 387h1v1h-1zM423 417h1v1h-1zM429 296h1v1h-1zM429 326h1v1h-1zM429 387h1v1h-1zM429 417h1v1h-1zM436 296h1v1h-1zM436 326h1v1h-1zM436 387h1v1h-1zM436 417h1v1h-1zM442 296h1v1h-1zM442 326h1v1h-1zM442 387h1v1h-1zM442 417h1v1h-1zM449 296h1v1h-1zM449 326h1v1h-1zM449 387h1v1h-1zM449 417h1v1h-1zM456 296h1v1h-1zM456 326h1v1h-1zM456 387h1v1h-1zM456 417h1v1h-1zM462 296h1v1h-1zM462 326h1v1h-1zM462 387h1v1h-1zM462 417h1v1h-1zM469 296h1v1h-1zM469 326h1v1h-1zM469 387h1v1h-1zM469 417h1v1h-1zM476 296h1v1h-1zM476 326h1v1h-1zM476 387h1v1h-1zM476 417h1v1h-1zM482 296h1v1h-1zM482 326h1v1h-1zM482 387h1v1h-1zM482 417h1v1h-1zM489 296h1v1h-1zM489 326h1v1h-1zM489 387h1v1h-1zM489 417h1v1h-1zM495 296h1v1h-1zM495 326h1v1h-1zM495 387h1v1h-1zM495 417h1v1h-1zM502 296h1v1h-1zM502 326h1v1h-1zM502 387h1v1h-1zM502 417h1v1h-1zM509 296h1v1h-1zM509 326h1v1h-1zM509 387h1v1h-1zM509 417h1v1h-1zM515 296h1v1h-1zM515 326h1v1h-1zM515 387h1v1h-1zM515 417h1v1h-1zM522 296h1v1h-1zM522 326h1v1h-1zM522 387h1v1h-1zM522 417h1v1h-1zM529 296h1v1h-1zM529 326h1v1h-1zM529 387h1v1h-1zM529 417h1v1h-1zM535 296h1v1h-1zM535 326h1v1h-1zM535 387h1v1h-1zM535 417h1v1h-1zM542 296h1v1h-1zM542 326h1v1h-1zM542 387h1v1h-1zM542 417h1v1h-1zM548 296h1v1h-1zM548 326h1v1h-1zM548 387h1v1h-1zM548 417h1v1h-1zM555 296h1v1h-1zM555 326h1v1h-1zM555 387h1v1h-1zM555 417h1v1h-1zM562 296h1v1h-1zM562 326h1v1h-1zM562 387h1v1h-1zM562 417h1v1h-1zM568 296h1v1h-1zM568 326h1v1h-1zM568 387h1v1h-1zM568 417h1v1h-1zM575 296h1v1h-1zM575 326h1v1h-1zM575 387h1v1h-1zM575 417h1v1h-1zM582 296h1v1h-1zM582 326h1v1h-1zM582 387h1v1h-1zM582 417h1v1h-1zM588 296h1v1h-1zM588 326h1v1h-1zM588 387h1v1h-1zM588 417h1v1h-1zM595 296h1v1h-1zM595 326h1v1h-1zM595 387h1v1h-1zM595 417h1v1h-1zM602 296h1v1h-1zM602 326h1v1h-1zM602 387h1v1h-1zM602 417h1v1h-1zM608 296h1v1h-1zM608 326h1v1h-1zM608 387h1v1h-1zM608 417h1v1h-1z"/>
<path fill="#000" shape-rendering="crispEdges" d="M41 208h1v17h-1zM42 220h1v1h-1zM40 209h1v1h-1zM43 222h1v10h-1zM44 222h1v1h-1zM42 222h1v1h-1zM45 219h1v9h-1zM46 224h1v1h-1zM44 224h1v1h-1zM48 223h1v8h-1zM49 228h1v1h-1zM47 226h1v1h-1zM50 231h1v5h-1zM51 232h1v1h-1zM49 231h1v1h-1zM52 231h1v5h-1zM53 231h1v1h-1zM51 231h1v1h-1zM54 224h1v5h-1zM55 226h1v1h-1zM53 228h1v1h-1zM56 224h1v4h-1zM57 225h1v1h-1zM55 227h1v1h-1zM59 222h1v9h-1zM60 226h1v1h-1zM58 227h1v1h-1zM61 216h1v22h-1zM62 217h1v1h-1zM60 225h1v1h-1zM63 213h1v18h-1zM64 223h1v1h-1zM62 219h1v1h-1zM66 218h1v10h-1zM67 225h1v1h-1zM65 225h1v1h-1zM68 218h1v10h-1zM69 223h1v1h-1zM67 223h1v1h-1zM70 218h1v9h-1zM71 221h1v1h-1zM69 221h1v1h-1zM72 212h1v13h-1zM73 214h1v1h-1zM71 220h1v1h-1zM74 202h1v9h-1zM75 203h1v1h-1zM73 210h1v1h-1zM77 196h1v8h-1zM78 197h1v1h-1zM76 203h1v1h-1zM79 194h1v5h-1zM80 197h1v1h-1zM78 196h1v1h-1zM81 197h1v9h-1zM82 202h1v1h-1zM80 199h1v1h-1zM84 208h1v13h-1zM85 218h1v1h-1zM83 208h1v1h-1zM86 215h1v7h-1zM87 219h1v1h-1zM85 216h1v1h-1zM87 215h1v12h-1zM88 221h1v1h-1zM86 221h1v1h-1zM90 217h1v9h-1zM91 218h1v1h-1zM89 223h1v1h-1zM92 210h1v9h-1zM93 216h1v1h-1zM91 218h1v1h-1zM94 209h1v14h-1zM95 219h1v1h-1zM93 217h1v1h-1zM96 219h1v10h-1zM97 220h1v1h-1zM95 219h1v1h-1zM98 217h1v6h-1zM99 218h1v1h-1zM97 219h1v1h-1zM101 216h1v5h-1zM102 216h1v1h-1zM100 218h1v1h-1zM103 208h1v14h-1zM104 210h1v1h-1zM102 216h1v1h-1zM105 204h1v8h-1zM106 209h1v1h-1zM104 210h1v1h-1zM108 206h1v6h-1zM109 209h1v1h-1zM107 207h1v1h-1zM110 204h1v8h-1zM111 209h1v1h-1zM109 210h1v1h-1zM112 206h1v8h-1zM113 206h1v1h-1zM111 209h1v1h-1zM114 199h1v7h-1zM115 201h1v1h-1zM113 205h1v1h-1zM116 200h1v7h-1zM117 205h1v1h-1zM115 200h1v1h-1zM118 198h1v16h-1zM119 211h1v1h-1zM117 207h1v1h-1zM121 212h1v7h-1zM122 214h1v1h-1zM120 212h1v1h-1zM123 211h1v5h-1zM124 211h1v1h-1zM122 214h1v1h-1zM125 199h1v10h-1zM126 201h1v1h-1zM124 208h1v1h-1zM127 197h1v6h-1zM128 201h1v1h-1zM126 199h1v1h-1zM129 198h1v4h-1zM130 199h1v1h-1zM128 201h1v1h-1zM131 191h1v13h-1zM132 193h1v1h-1zM130 197h1v1h-1zM134 186h1v12h-1zM135 186h1v1h-1zM133 193h1v1h-1zM136 184h1v12h-1zM137 191h1v1h-1zM135 187h1v1h-1zM138 187h1v7h-1zM139 191h1v1h-1zM137 192h1v1h-1zM140 191h1v8h-1zM141 198h1v1h-1zM139 191h1v1h-1zM143 209h1v25h-1zM144 224h1v1h-1zM142 209h1v1h-1zM145 224h1v14h-1zM146 234h1v1h-1zM144 226h1v1h-1zM147 229h1v23h-1zM148 243h1v1h-1zM146 232h1v1h-1zM149 236h1v13h-1zM150 244h1v1h-1zM148 243h1v1h-1zM152 245h1v14h-1zM153 246h1v1h-1zM151 245h1v1h-1zM154 240h1v19h-1zM155 243h1v1h-1zM153 247h1v1h-1zM156 241h1v5h-1zM157 241h1v1h-1zM155 244h1v1h-1zM158 236h1v6h-1zM159 238h1v1h-1zM157 241h1v1h-1zM160 235h1v10h-1zM161 238h1v1h-1zM159 239h1v1h-1zM163 236h1v5h-1zM164 240h1v1h-1zM162 238h1v1h-1zM165 238h1v19h-1zM166 254h1v1h-1zM164 240h1v1h-1zM167 247h1v15h-1zM168 250h1v1h-1zM166 255h1v1h-1zM170 243h1v6h-1zM171 247h1v1h-1zM169 248h1v1h-1zM172 242h1v7h-1zM173 242h1v1h-1zM171 246h1v1h-1zM174 237h1v5h-1zM175 237h1v1h-1zM173 241h1v1h-1zM176 231h1v7h-1zM177 231h1v1h-1zM175 237h1v1h-1zM178 214h1v20h-1zM179 216h1v1h-1zM177 231h1v1h-1zM180 214h1v5h-1zM181 215h1v1h-1zM179 217h1v1h-1zM183 214h1v5h-1zM184 217h1v1h-1zM182 217h1v1h-1zM185 214h1v10h-1zM186 221h1v1h-1zM184 216h1v1h-1zM187 218h1v5h-1zM188 222h1v1h-1zM186 222h1v1h-1zM190 224h1v7h-1zM191 230h1v1h-1zM189 224h1v1h-1zM191 224h1v12h-1zM192 229h1v1h-1zM190 232h1v1h-1zM194 224h1v12h-1zM195 226h1v1h-1zM193 230h1v1h-1zM196 225h1v7h-1zM197 226h1v1h-1zM195 227h1v1h-1zM198 216h1v7h-1zM199 217h1v1h-1zM197 222h1v1h-1zM200 212h1v6h-1zM201 212h1v1h-1zM199 216h1v1h-1zM202 208h1v5h-1zM203 208h1v1h-1zM201 210h1v1h-1zM204 206h1v5h-1zM205 208h1v1h-1zM203 206h1v1h-1zM206 206h1v4h-1zM207 208h1v1h-1zM205 209h1v1h-1zM209 206h1v10h-1zM210 206h1v1h-1zM208 206h1v1h-1zM211 205h1v9h-1zM212 208h1v1h-1zM210 208h1v1h-1zM213 201h1v8h-1zM214 201h1v1h-1zM212 207h1v1h-1zM216 190h1v8h-1zM217 191h1v1h-1zM215 197h1v1h-1zM218 188h1v6h-1zM219 192h1v1h-1zM217 191h1v1h-1zM220 191h1v6h-1zM221 195h1v1h-1zM219 193h1v1h-1zM222 193h1v8h-1zM223 193h1v1h-1zM221 196h1v1h-1zM225 185h1v4h-1zM226 188h1v1h-1zM224 188h1v1h-1zM227 185h1v4h-1zM228 188h1v1h-1zM226 188h1v1h-1zM229 186h1v6h-1zM230 186h1v1h-1zM228 186h1v1h-1zM231 177h1v11h-1zM232 180h1v1h-1zM230 186h1v1h-1zM233 174h1v5h-1zM234 174h1v1h-1zM232 178h1v1h-1zM236 172h1v6h-1zM237 176h1v1h-1zM235 173h1v1h-1zM238 174h1v12h-1zM239 185h1v1h-1zM237 178h1v1h-1zM240 185h1v7h-1zM241 186h1v1h-1zM239 187h1v1h-1zM242 173h1v11h-1zM243 176h1v1h-1zM241 183h1v1h-1zM244 171h1v3h-1zM245 171h1v1h-1zM243 173h1v1h-1zM246 168h1v4h-1zM247 169h1v1h-1zM245 171h1v1h-1zM249 166h1v4h-1zM250 169h1v1h-1zM248 168h1v1h-1zM252 169h1v7h-1zM253 170h1v1h-1zM251 169h1v1h-1zM253 166h1v8h-1zM254 172h1v1h-1zM252 172h1v1h-1zM256 169h1v15h-1zM257 174h1v1h-1zM255 171h1v1h-1zM258 173h1v8h-1zM259 177h1v1h-1zM257 173h1v1h-1zM260 171h1v10h-1zM261 179h1v1h-1zM259 178h1v1h-1zM262 176h1v12h-1zM263 186h1v1h-1zM261 178h1v1h-1zM264 179h1v10h-1zM265 180h1v1h-1zM263 187h1v1h-1zM266 179h1v3h-1zM267 179h1v1h-1zM265 179h1v1h-1zM269 174h1v7h-1zM270 176h1v1h-1zM268 179h1v1h-1zM271 164h1v9h-1zM272 165h1v1h-1zM270 172h1v1h-1zM273 161h1v7h-1zM274 165h1v1h-1zM272 165h1v1h-1zM275 158h1v12h-1zM276 167h1v1h-1zM274 165h1v1h-1zM278 164h1v21h-1zM279 171h1v1h-1zM277 167h1v1h-1zM282 168h1v6h-1zM283 168h1v1h-1zM281 169h1v1h-1zM284 161h1v15h-1zM285 162h1v1h-1zM283 167h1v1h-1zM286 156h1v3h-1zM287 156h1v1h-1zM285 158h1v1h-1zM289 148h1v7h-1zM290 153h1v1h-1zM288 154h1v1h-1zM291 151h1v5h-1zM292 155h1v1h-1zM290 154h1v1h-1zM293 153h1v6h-1zM294 158h1v1h-1zM292 155h1v1h-1zM295 158h1v8h-1zM296 165h1v1h-1zM294 158h1v1h-1zM298 166h1v15h-1zM299 176h1v1h-1zM297 166h1v1h-1zM300 166h1v16h-1zM301 171h1v1h-1zM299 175h1v1h-1zM302 164h1v7h-1zM303 169h1v1h-1zM301 170h1v1h-1zM304 166h1v12h-1zM305 168h1v1h-1zM303 169h1v1h-1zM306 165h1v9h-1zM307 165h1v1h-1zM305 169h1v1h-1zM309 156h1v9h-1zM310 157h1v1h-1zM308 163h1v1h-1zM311 147h1v2h-1zM312 148h1v1h-1zM310 148h1v1h-1zM313 146h1v4h-1zM314 149h1v1h-1zM312 146h1v1h-1zM315 146h1v6h-1zM316 149h1v1h-1zM314 150h1v1h-1zM317 144h1v15h-1zM318 157h1v1h-1zM316 148h1v1h-1zM319 151h1v8h-1zM320 157h1v1h-1zM318 158h1v1h-1zM322 154h1v8h-1zM323 161h1v1h-1zM321 157h1v1h-1zM324 156h1v13h-1zM325 164h1v1h-1zM323 163h1v1h-1zM326 161h1v9h-1zM327 161h1v1h-1zM325 162h1v1h-1zM329 156h1v16h-1zM330 160h1v1h-1zM328 159h1v1h-1zM330 149h1v10h-1zM331 154h1v1h-1zM329 158h1v1h-1zM333 148h1v11h-1zM334 149h1v1h-1zM332 153h1v1h-1zM335 145h1v7h-1zM336 147h1v1h-1zM334 148h1v1h-1zM337 140h1v4h-1zM338 140h1v1h-1zM336 143h1v1h-1zM339 136h1v6h-1zM340 136h1v1h-1zM338 139h1v1h-1zM342 131h1v7h-1zM343 132h1v1h-1zM341 136h1v1h-1zM344 130h1v4h-1zM345 132h1v1h-1zM343 133h1v1h-1zM346 134h1v10h-1zM347 142h1v1h-1zM345 134h1v1h-1zM348 138h1v8h-1zM349 140h1v1h-1zM347 142h1v1h-1zM351 118h1v16h-1zM352 123h1v1h-1zM350 133h1v1h-1zM353 116h1v5h-1zM354 119h1v1h-1zM352 120h1v1h-1zM355 116h1v5h-1zM356 116h1v1h-1zM354 120h1v1h-1zM357 111h1v7h-1zM358 115h1v1h-1zM356 115h1v1h-1zM360 119h1v10h-1zM361 121h1v1h-1zM359 119h1v1h-1zM362 109h1v6h-1zM363 114h1v1h-1zM361 114h1v1h-1zM364 115h1v14h-1zM365 122h1v1h-1zM363 115h1v1h-1zM366 117h1v8h-1zM367 122h1v1h-1zM365 123h1v1h-1zM368 126h1v18h-1zM369 140h1v1h-1zM367 126h1v1h-1zM370 132h1v14h-1zM371 143h1v1h-1zM369 140h1v1h-1zM373 145h1v26h-1zM374 166h1v1h-1zM372 145h1v1h-1zM375 154h1v19h-1zM376 169h1v1h-1zM374 164h1v1h-1zM377 159h1v17h-1zM378 171h1v1h-1zM376 167h1v1h-1zM379 157h1v21h-1zM380 171h1v1h-1zM378 171h1v1h-1zM382 176h1v13h-1zM383 176h1v1h-1zM381 176h1v1h-1zM384 166h1v13h-1zM385 176h1v1h-1zM383 178h1v1h-1zM386 167h1v27h-1zM387 183h1v1h-1zM385 174h1v1h-1zM388 179h1v20h-1zM389 182h1v1h-1zM387 185h1v1h-1zM390 168h1v19h-1zM391 174h1v1h-1zM389 184h1v1h-1zM394 148h1v16h-1zM395 160h1v1h-1zM393 163h1v1h-1zM395 152h1v23h-1zM396 169h1v1h-1zM394 162h1v1h-1zM397 171h1v24h-1zM398 178h1v1h-1zM396 171h1v1h-1zM399 169h1v12h-1zM400 180h1v1h-1zM398 180h1v1h-1zM401 181h1v17h-1zM402 186h1v1h-1zM400 181h1v1h-1zM402 178h1v19h-1zM403 195h1v1h-1zM401 185h1v1h-1zM404 189h1v24h-1zM405 210h1v1h-1zM403 194h1v1h-1zM406 213h1v28h-1zM407 217h1v1h-1zM405 213h1v1h-1zM408 188h1v22h-1zM409 192h1v1h-1zM407 209h1v1h-1zM410 190h1v12h-1zM411 193h1v1h-1zM409 193h1v1h-1zM413 187h1v9h-1zM414 187h1v1h-1zM412 193h1v1h-1zM415 177h1v7h-1zM416 178h1v1h-1zM414 183h1v1h-1zM417 172h1v12h-1zM418 175h1v1h-1zM416 178h1v1h-1zM419 168h1v15h-1zM420 169h1v1h-1zM418 174h1v1h-1zM421 168h1v6h-1zM422 173h1v1h-1zM420 168h1v1h-1zM424 178h1v20h-1zM425 183h1v1h-1zM423 178h1v1h-1zM426 172h1v19h-1zM427 175h1v1h-1zM425 184h1v1h-1zM428 162h1v17h-1zM429 163h1v1h-1zM427 174h1v1h-1zM430 158h1v8h-1zM431 158h1v1h-1zM429 164h1v1h-1zM433 148h1v11h-1zM434 151h1v1h-1zM432 158h1v1h-1zM436 146h1v12h-1zM437 150h1v1h-1zM435 150h1v1h-1zM437 149h1v7h-1zM438 154h1v1h-1zM436 149h1v1h-1zM440 164h1v10h-1zM441 172h1v1h-1zM439 164h1v1h-1zM441 162h1v19h-1zM442 164h1v1h-1zM440 173h1v1h-1zM444 159h1v10h-1zM445 160h1v1h-1zM443 162h1v1h-1zM446 154h1v8h-1zM447 157h1v1h-1zM445 161h1v1h-1zM448 153h1v8h-1zM449 159h1v1h-1zM447 159h1v1h-1zM451 157h1v10h-1zM452 164h1v1h-1zM450 157h1v1h-1zM453 159h1v8h-1zM454 161h1v1h-1zM452 163h1v1h-1zM455 138h1v28h-1zM456 147h1v1h-1zM454 159h1v1h-1zM457 126h1v10h-1zM458 132h1v1h-1zM456 135h1v1h-1zM459 128h1v10h-1zM460 128h1v1h-1zM458 131h1v1h-1zM463 122h1v12h-1zM464 130h1v1h-1zM462 127h1v1h-1zM464 126h1v7h-1zM465 130h1v1h-1zM463 130h1v1h-1zM466 125h1v11h-1zM467 126h1v1h-1zM465 132h1v1h-1zM468 116h1v6h-1zM469 117h1v1h-1zM467 121h1v1h-1zM470 114h1v5h-1zM471 116h1v1h-1zM469 117h1v1h-1zM472 113h1v8h-1zM473 113h1v1h-1zM471 114h1v1h-1zM476 102h1v14h-1zM477 106h1v1h-1zM475 112h1v1h-1zM477 99h1v6h-1zM478 103h1v1h-1zM476 104h1v1h-1zM479 102h1v8h-1zM480 107h1v1h-1zM478 102h1v1h-1zM481 105h1v6h-1zM482 106h1v1h-1zM480 107h1v1h-1zM483 87h1v12h-1zM484 87h1v1h-1zM482 98h1v1h-1zM486 85h1v6h-1zM487 85h1v1h-1zM485 85h1v1h-1zM488 78h1v8h-1zM489 79h1v1h-1zM487 85h1v1h-1zM490 74h1v6h-1zM491 79h1v1h-1zM489 79h1v1h-1zM492 67h1v29h-1zM493 93h1v1h-1zM491 79h1v1h-1zM494 77h1v12h-1zM495 86h1v1h-1zM493 88h1v1h-1zM497 75h1v19h-1zM498 89h1v1h-1zM496 85h1v1h-1zM499 88h1v7h-1zM500 90h1v1h-1zM498 88h1v1h-1zM500 78h1v18h-1zM501 80h1v1h-1zM499 89h1v1h-1zM502 79h1v12h-1zM503 82h1v1h-1zM501 80h1v1h-1zM504 79h1v14h-1zM505 90h1v1h-1zM503 84h1v1h-1zM506 80h1v29h-1zM507 105h1v1h-1zM505 90h1v1h-1zM508 98h1v21h-1zM509 101h1v1h-1zM507 104h1v1h-1zM510 80h1v13h-1zM511 89h1v1h-1zM509 92h1v1h-1zM512 88h1v23h-1zM513 96h1v1h-1zM511 88h1v1h-1zM514 85h1v21h-1zM515 86h1v1h-1zM513 98h1v1h-1zM517 76h1v12h-1zM518 78h1v1h-1zM516 85h1v1h-1zM519 70h1v8h-1zM520 74h1v1h-1zM518 77h1v1h-1zM521 69h1v10h-1zM522 72h1v1h-1zM520 72h1v1h-1zM523 56h1v18h-1zM524 70h1v1h-1zM522 73h1v1h-1zM525 66h1v16h-1zM526 79h1v1h-1zM524 72h1v1h-1zM528 74h1v15h-1zM529 87h1v1h-1zM527 80h1v1h-1zM530 76h1v15h-1zM531 81h1v1h-1zM529 87h1v1h-1zM532 70h1v18h-1zM533 85h1v1h-1zM531 80h1v1h-1zM534 76h1v24h-1zM535 93h1v1h-1zM533 84h1v1h-1zM536 98h1v41h-1zM537 128h1v1h-1zM535 98h1v1h-1zM539 130h1v18h-1zM540 146h1v1h-1zM538 130h1v1h-1zM541 141h1v23h-1zM542 142h1v1h-1zM540 146h1v1h-1zM543 131h1v21h-1zM544 134h1v1h-1zM542 140h1v1h-1zM545 119h1v25h-1zM546 134h1v1h-1zM544 135h1v1h-1zM548 138h1v19h-1zM549 155h1v1h-1zM547 138h1v1h-1zM550 142h1v16h-1zM551 154h1v1h-1zM549 155h1v1h-1zM552 147h1v17h-1zM553 157h1v1h-1zM551 153h1v1h-1zM554 147h1v29h-1zM555 165h1v1h-1zM553 158h1v1h-1zM556 159h1v20h-1zM557 160h1v1h-1zM555 165h1v1h-1zM559 157h1v14h-1zM560 170h1v1h-1zM558 162h1v1h-1zM561 153h1v28h-1zM562 172h1v1h-1zM560 168h1v1h-1zM563 164h1v14h-1zM564 168h1v1h-1zM562 172h1v1h-1zM565 131h1v23h-1zM566 133h1v1h-1zM564 153h1v1h-1zM567 131h1v5h-1zM568 131h1v1h-1zM566 134h1v1h-1zM570 121h1v20h-1zM571 133h1v1h-1zM569 131h1v1h-1zM572 131h1v13h-1zM573 141h1v1h-1zM571 132h1v1h-1zM574 142h1v10h-1zM575 143h1v1h-1zM573 142h1v1h-1zM576 129h1v9h-1zM577 129h1v1h-1zM575 137h1v1h-1zM579 115h1v17h-1zM580 116h1v1h-1zM578 131h1v1h-1zM580 116h1v3h-1zM581 116h1v1h-1zM579 116h1v1h-1zM583 108h1v10h-1zM584 115h1v1h-1zM582 115h1v1h-1zM585 105h1v34h-1zM586 126h1v1h-1zM584 117h1v1h-1zM587 114h1v29h-1zM588 140h1v1h-1zM586 125h1v1h-1zM589 130h1v12h-1zM590 139h1v1h-1zM588 141h1v1h-1zM592 131h1v13h-1zM593 140h1v1h-1zM591 139h1v1h-1zM594 148h1v21h-1zM595 165h1v1h-1zM593 148h1v1h-1zM596 156h1v20h-1zM597 157h1v1h-1zM595 167h1v1h-1zM598 154h1v12h-1zM599 156h1v1h-1zM597 155h1v1h-1zM601 142h1v14h-1zM602 146h1v1h-1zM600 155h1v1h-1zM603 122h1v8h-1zM604 123h1v1h-1zM602 129h1v1h-1zM605 114h1v7h-1zM606 114h1v1h-1zM604 120h1v1h-1zM607 108h1v11h-1zM608 117h1v1h-1zM606 116h1v1h-1zM609 112h1v17h-1zM610 127h1v1h-1zM608 115h1v1h-1zM612 119h1v11h-1zM613 128h1v1h-1zM611 129h1v1h-1zM614 131h1v8h-1zM615 136h1v1h-1zM613 131h1v1h-1z"/>
<polyline fill="none" stroke="#ff00ff" stroke-width="1.2" stroke-linejoin="round" stroke-linecap="round" points="363.0,192.5 381.0,190.0 400.0,187.5 418.5,185.0 437.0,183.0 447.0,182.0 455.0,181.0 471.0,177.5 484.0,172.0 496.0,165.0 510.0,159.0 525.0,152.5 538.5,148.0 557.0,145.6 576.0,143.8 595.0,142.0 615.0,140.0" shape-rendering="crispEdges"/>
<polyline fill="none" stroke="#900090" stroke-width="2.5" stroke-linejoin="round" stroke-linecap="round" points="176.0,220.0 196.0,220.0 213.5,218.0 228.5,216.0 241.0,212.5 253.5,208.8 266.0,206.0 281.0,204.0 291.0,199.0 303.5,192.5 316.0,185.0 337.0,175.0 350.0,168.8 361.0,162.0 368.5,158.5 376.0,157.5 400.0,158.0 408.5,159.4 426.0,160.0 441.0,159.4 456.0,158.8 462.5,158.8 477.5,154.4 492.5,148.8 510.0,145.0 520.0,141.0 527.5,135.6 533.5,131.0 542.0,129.0 551.0,125.0 563.5,123.0 576.0,120.6 586.0,118.8 593.5,117.0 615.0,117.2" shape-rendering="crispEdges"/>
<polyline fill="none" stroke="#800010" stroke-width="1" stroke-linejoin="round" stroke-linecap="round" points="80.4,219.4 92.0,218.8 103.5,215.6 111.0,213.0 121.0,213.0 128.5,212.0 132.0,210.0 138.5,205.6 145.0,205.6 151.0,210.0 161.0,218.8 170.0,225.6 178.5,231.0 186.0,235.6 193.5,236.0 198.5,233.8 203.5,229.4 211.0,225.0 216.0,218.0 223.5,211.0 228.5,208.8 241.0,195.0 253.5,184.4 266.0,180.0 276.0,175.0 283.5,175.0 293.5,169.4 301.0,169.4 308.5,167.5 316.0,161.9 328.5,161.2 338.5,158.0 348.5,151.2 358.5,142.5 366.0,136.9 373.5,133.8 383.5,138.0 391.0,145.6 394.8,147.5 401.0,156.2 406.0,166.2 408.5,171.0 414.8,179.4 421.0,183.0 428.5,183.8 433.5,180.0 438.5,178.0 443.5,178.8 448.5,175.6 456.0,167.5 467.5,153.8 481.0,136.0 488.0,125.0 492.0,117.5 500.0,106.0 508.5,98.0 516.0,92.5 526.0,83.0 533.5,83.0 541.0,91.0 546.0,97.0 553.5,106.0 563.5,123.8 573.5,138.8 581.0,145.0 585.0,145.0 588.5,143.0 596.0,145.0 601.0,143.0 606.0,138.8 610.0,134.4 613.5,134.4" shape-rendering="crispEdges"/>
<path fill="none" stroke="#ff0000" stroke-width="1" d="M357.5 90V104.5M353.0 99.0L357.5 104.5L362.0 99.0"/>
<path fill="none" stroke="#ff0000" stroke-width="1" d="M361.0 90V104.5M356.5 99.0L361.0 104.5L365.5 99.0"/>
<path fill="none" stroke="#ff0000" stroke-width="1" d="M363.0 90V104.5M358.5 99.0L363.0 104.5L367.5 99.0"/>
<path fill="none" stroke="#ff0000" stroke-width="1" d="M366.5 90V104.5M362.0 99.0L366.5 104.5L371.0 99.0"/>
<path fill="none" stroke="#ff0000" stroke-width="1" d="M466.5 57V72.5M461.5 66.0L466.5 72.5L471.5 66.0"/>
<path fill="none" stroke="#ff0000" stroke-width="1" d="M483.5 47V62.5M478.5 56.0L483.5 62.5L488.5 56.0"/>
<path fill="none" stroke="#ff0000" stroke-width="1" d="M579.5 75V99M575.5 94L579.5 99L583.5 94"/>
<path fill="none" stroke="#ff0000" stroke-width="1" d="M581.5 86V101M576.5 95L581.5 101L586.5 95"/>
<path fill="none" stroke="#ff0000" stroke-width="1" d="M225.5 255V239.5M219.7 251.0L225.5 239.5L231.3 251.0"/>
<path fill="none" stroke="#ff0000" stroke-width="1" d="M269.5 223V208M264.3 217.5L269.5 208L274.7 217.5"/>
<path fill="none" stroke="#ff0000" stroke-width="1" d="M149.5 301V281M143.5 287.5L149.5 281L155.5 287.5"/>
<path fill="none" stroke="#ff0000" stroke-width="1" d="M154.5 309V290M150.0 298L154.5 290L159.0 298"/>
<path fill="none" stroke="#800080" stroke-width="1" d="M426.5 282V268M421.5 273.5L426.5 268L431.5 273.5"/>
<path fill="none" stroke="#800080" stroke-width="1" d="M455.5 223.5V210M450.5 215.5L455.5 210L460.5 215.5"/>
<path fill="none" stroke="#ff0000" stroke-width="1" d="M545.5 216V199M539.5 206L545.5 199L551.5 206"/>
<text x="347.5" y="65" class="big" >S9</text>
<text x="456.5" y="55.8" class="big" >S4</text>
<text x="473.8" y="45" class="big" >S4</text>
<text x="571" y="60.7" class="big" >S9</text>
<text x="585" y="77.5" class="" style="font-size:13.5px;stroke:#000;stroke-width:0.35px" textLength="24" lengthAdjust="spacingAndGlyphs">S12</text>
<rect x="230.5" y="253" width="36" height="18" fill="#fff"/>
<text x="230" y="270" class="big" >B10</text>
<rect x="273" y="221" width="37.5" height="17" fill="#fff"/>
<text x="273.8" y="236.2" class="big" >B18</text>
<rect x="156" y="292" width="37" height="15" fill="#fff"/>
<text x="156" y="306.5" class="big" >B17</text>
<rect x="159" y="306" width="37" height="15" fill="#fff"/>
<text x="159" y="319.5" class="big" >B19</text>
<text x="431.5" y="286" class="s" textLength="21" lengthAdjust="spacingAndGlyphs">B14</text>
<text x="460.7" y="226.8" class="s" textLength="21" lengthAdjust="spacingAndGlyphs">B14</text>
<text x="552" y="224.5" class="big" >B1</text>
<path fill="none" stroke="#ff0000" stroke-width="1" d="M559.5 227V208M555.5 214L559.5 208L563.5 214"/>
<path fill="none" stroke="#800080" stroke-width="1" d="M565.5 222.5V208M562.5 213L565.5 208L568.5 213"/>
<text x="573" y="226" class="s" >B14</text>
<rect x="564" y="224.5" width="37" height="14" fill="#fff"/>
<text x="564.5" y="238" class="big" >B19</text>
<text x="5.6" y="65.1" class="b" textLength="27.5" lengthAdjust="spacingAndGlyphs">2850</text>
<text x="5.6" y="84.5" class="b" textLength="27.5" lengthAdjust="spacingAndGlyphs">2800</text>
<text x="5.6" y="103.9" class="b" textLength="27.5" lengthAdjust="spacingAndGlyphs">2750</text>
<text x="5.6" y="123.3" class="b" textLength="27.5" lengthAdjust="spacingAndGlyphs">2700</text>
<text x="5.6" y="142.7" class="b" textLength="27.5" lengthAdjust="spacingAndGlyphs">2650</text>
<text x="5.6" y="162.1" class="b" textLength="27.5" lengthAdjust="spacingAndGlyphs">2600</text>
<text x="5.6" y="181.5" class="b" textLength="27.5" lengthAdjust="spacingAndGlyphs">2550</text>
<text x="5.6" y="200.9" class="b" textLength="27.5" lengthAdjust="spacingAndGlyphs">2500</text>
<text x="5.6" y="220.3" class="b" textLength="27.5" lengthAdjust="spacingAndGlyphs">2450</text>
<text x="5.6" y="239.7" class="b" textLength="27.5" lengthAdjust="spacingAndGlyphs">2400</text>
<text x="5.6" y="259.1" class="b" textLength="27.5" lengthAdjust="spacingAndGlyphs">2350</text>
<text x="56" y="300" class="b" textLength="24" lengthAdjust="spacingAndGlyphs">+.50</text>
<text x="56" y="330" class="b" textLength="24" lengthAdjust="spacingAndGlyphs">+.25</text>
<text x="56" y="391" class="b" textLength="21" lengthAdjust="spacingAndGlyphs">-.25</text>
<text x="56" y="421" class="b" textLength="21" lengthAdjust="spacingAndGlyphs">-.50</text>
<text x="40" y="12" class="b" textLength="186" lengthAdjust="spacingAndGlyphs">Last drawn moving average= 149</text>
<text x="40" y="28" class="b" textLength="135" lengthAdjust="spacingAndGlyphs">c:\peerless\NASD07.txt</text>
<text x="44" y="42.3" class="b" textLength="151" lengthAdjust="spacingAndGlyphs">12/ 18/2006- 12/ 31/2007</text>
<text x="2" y="332" class="b" textLength="37.5" lengthAdjust="spacingAndGlyphs">Accum</text>
<text x="2" y="345.7" class="b" textLength="30" lengthAdjust="spacingAndGlyphs">Index</text>
<text x="1.5" y="358.8" class="b" textLength="71" lengthAdjust="spacingAndGlyphs">AI= 174/200</text>
<path fill="#0000ff" shape-rendering="crispEdges" d="M85 348h1v9h-1zM87 347h1v10h-1zM90 351h1v6h-1zM92 344h1v13h-1zM94 343h1v14h-1zM96 341h1v16h-1zM98 341h1v16h-1zM101 342h1v15h-1zM103 339h1v18h-1zM105 336h1v21h-1zM107 333h1v24h-1zM109 335h1v22h-1zM112 337h1v20h-1zM114 336h1v21h-1zM116 336h1v21h-1zM118 342h1v15h-1zM121 350h1v7h-1zM123 355h1v2h-1zM125 350h1v7h-1zM127 342h1v15h-1zM129 336h1v21h-1zM132 330h1v27h-1zM134 324h1v33h-1zM136 318h1v39h-1zM138 321h1v36h-1zM140 319h1v38h-1zM143 328h1v29h-1zM145 328h1v29h-1zM147 328h1v29h-1zM149 334h1v23h-1zM151 342h1v15h-1zM154 343h1v14h-1zM156 345h1v12h-1zM158 349h1v8h-1zM160 351h1v6h-1zM162 352h1v5h-1zM165 350h1v7h-1zM167 347h1v10h-1zM169 346h1v11h-1zM171 350h1v7h-1zM174 351h1v6h-1zM176 352h1v5h-1zM178 354h1v3h-1zM180 356h1v1h-1zM191 356h1v1h-1zM196 350h1v7h-1zM198 344h1v13h-1zM200 345h1v12h-1zM202 335h1v22h-1zM204 330h1v27h-1zM207 329h1v28h-1zM209 330h1v27h-1zM211 323h1v34h-1zM213 321h1v36h-1zM216 318h1v39h-1zM218 317h1v40h-1zM220 318h1v39h-1zM222 320h1v37h-1zM224 322h1v35h-1zM227 325h1v32h-1zM229 322h1v35h-1zM231 319h1v38h-1zM233 316h1v41h-1zM235 314h1v43h-1zM238 316h1v41h-1zM240 316h1v41h-1zM242 314h1v43h-1zM244 314h1v43h-1zM246 315h1v42h-1zM249 319h1v38h-1zM251 317h1v40h-1zM253 316h1v41h-1zM255 318h1v39h-1zM257 319h1v38h-1zM260 325h1v32h-1zM262 333h1v24h-1zM264 334h1v23h-1zM266 334h1v23h-1zM269 332h1v25h-1zM271 331h1v26h-1zM273 329h1v28h-1zM275 333h1v24h-1zM277 341h1v16h-1zM280 345h1v12h-1zM282 343h1v14h-1zM284 336h1v21h-1zM286 334h1v23h-1zM288 338h1v19h-1zM291 337h1v20h-1zM293 336h1v21h-1zM295 334h1v23h-1zM297 340h1v17h-1zM299 345h1v12h-1zM302 341h1v16h-1zM304 345h1v12h-1zM306 343h1v14h-1zM308 337h1v20h-1zM310 336h1v21h-1zM313 335h1v22h-1zM315 337h1v20h-1zM317 340h1v17h-1zM319 342h1v15h-1zM322 342h1v15h-1zM324 341h1v16h-1zM326 342h1v15h-1zM328 344h1v13h-1zM330 348h1v9h-1zM333 354h1v3h-1zM335 352h1v5h-1zM337 349h1v8h-1zM339 349h1v8h-1zM341 347h1v10h-1zM344 337h1v20h-1zM346 341h1v16h-1zM348 336h1v21h-1zM350 330h1v27h-1zM352 328h1v29h-1zM355 332h1v25h-1zM357 332h1v25h-1zM359 331h1v26h-1zM361 330h1v27h-1zM364 328h1v29h-1zM366 335h1v22h-1zM368 335h1v22h-1zM370 334h1v23h-1zM372 333h1v24h-1zM375 342h1v15h-1zM377 343h1v14h-1zM379 344h1v13h-1zM381 343h1v14h-1zM383 344h1v13h-1zM386 351h1v6h-1zM388 350h1v7h-1zM390 349h1v8h-1zM392 345h1v12h-1zM394 346h1v11h-1zM397 355h1v2h-1zM419 355h1v2h-1zM421 352h1v5h-1zM423 351h1v6h-1zM425 350h1v7h-1zM428 349h1v8h-1zM430 354h1v3h-1zM432 350h1v7h-1zM434 349h1v8h-1zM436 353h1v4h-1zM441 353h1v4h-1zM443 349h1v8h-1zM445 345h1v12h-1zM447 340h1v17h-1zM450 332h1v25h-1zM452 333h1v24h-1zM454 335h1v22h-1zM456 334h1v23h-1zM459 341h1v16h-1zM461 347h1v10h-1zM463 348h1v9h-1zM465 348h1v9h-1zM467 346h1v11h-1zM470 343h1v14h-1zM472 344h1v13h-1zM474 343h1v14h-1zM476 341h1v16h-1zM478 340h1v17h-1zM481 337h1v20h-1zM483 334h1v23h-1zM485 329h1v28h-1zM487 326h1v31h-1zM489 324h1v33h-1zM492 321h1v36h-1zM494 319h1v38h-1zM496 322h1v35h-1zM498 326h1v31h-1zM500 329h1v28h-1zM503 325h1v32h-1zM505 327h1v30h-1zM507 326h1v31h-1zM509 319h1v38h-1zM512 314h1v43h-1zM514 315h1v42h-1zM516 316h1v41h-1zM518 314h1v43h-1zM520 314h1v43h-1zM523 317h1v40h-1zM525 321h1v36h-1zM527 321h1v36h-1zM529 321h1v36h-1zM531 321h1v36h-1zM534 327h1v30h-1zM536 334h1v23h-1zM538 338h1v19h-1zM540 342h1v15h-1zM542 346h1v11h-1zM545 343h1v14h-1zM547 345h1v12h-1zM549 347h1v10h-1zM551 346h1v11h-1zM553 347h1v10h-1zM556 352h1v5h-1zM567 356h1v1h-1zM587 353h1v4h-1zM589 353h1v4h-1zM591 353h1v4h-1zM593 354h1v3h-1zM595 356h1v1h-1zM598 354h1v3h-1zM600 352h1v5h-1zM602 346h1v11h-1zM604 341h1v16h-1zM607 333h1v24h-1zM609 336h1v21h-1zM611 342h1v15h-1zM613 347h1v10h-1zM615 354h1v3h-1z"/>
<path fill="#ff0000" shape-rendering="crispEdges" d="M182 357h1v2h-1zM185 357h1v3h-1zM187 357h1v1h-1zM399 357h1v3h-1zM401 357h1v7h-1zM403 357h1v12h-1zM405 357h1v14h-1zM408 357h1v14h-1zM410 357h1v13h-1zM412 357h1v10h-1zM414 357h1v6h-1zM439 357h1v1h-1zM560 357h1v2h-1zM562 357h1v3h-1zM565 357h1v1h-1zM569 357h1v2h-1zM571 357h1v4h-1zM573 357h1v6h-1zM576 357h1v10h-1zM578 357h1v9h-1zM580 357h1v7h-1zM582 357h1v5h-1zM584 357h1v1h-1z"/>
<polyline fill="none" stroke="#000028" stroke-width="1.25" stroke-linejoin="round" stroke-linecap="round" points="85.0,347.5 87.5,347.0 90.0,351.0 92.5,342.0 94.4,343.0 97.0,339.4 98.8,342.5 101.0,342.0 103.8,338.0 107.5,332.5 110.6,338.5 113.8,336.0 116.0,336.0 120.0,348.0 123.5,356.0 126.0,346.0 130.0,332.0 132.0,330.0 136.0,317.5 138.0,321.0 140.0,319.4 143.0,328.0 147.0,328.0 150.0,337.0 151.0,342.5 155.0,343.0 159.0,350.5 162.5,352.5 165.0,350.5 168.0,345.0 171.0,349.5 175.0,352.0 179.0,354.0 181.0,357.5 184.0,361.0 186.0,359.0 190.0,356.0 194.0,357.5 196.0,350.0 199.0,341.0 200.0,345.0 202.5,332.5 206.2,327.5 208.8,331.2 211.2,322.5 215.0,318.8 218.8,316.2 222.5,320.0 226.2,326.2 230.0,320.0 233.8,315.0 236.2,312.5 238.8,317.5 241.2,313.8 245.0,313.8 248.8,318.8 252.5,315.5 256.2,318.8 258.8,320.0 262.5,335.0 266.2,333.8 270.0,331.2 273.8,328.8 277.5,342.5 280.0,345.0 282.5,342.5 285.0,332.5 288.8,338.8 292.5,336.2 295.0,333.8 298.8,345.0 302.0,341.2 305.0,346.2 308.8,335.0 311.2,336.2 313.8,334.5 316.2,338.8 320.0,342.5 323.8,341.2 327.5,342.5 331.2,350.0 333.8,355.0 336.2,348.8 340.0,348.8 343.0,342.5 344.5,334.5 346.2,342.5 348.8,332.5 351.2,327.0 355.0,332.5 358.8,331.2 361.2,330.0 363.8,327.0 366.2,335.5 370.0,334.5 372.5,332.5 375.0,342.5 378.8,343.8 382.5,342.5 386.2,351.2 390.0,348.8 393.0,342.5 396.2,352.5 398.8,360.0 400.0,361.2 402.5,368.8 406.2,372.0 410.0,370.0 413.8,363.8 416.2,357.5 418.8,355.0 421.2,352.0 425.0,350.5 427.5,348.0 430.0,353.8 433.0,347.5 436.2,353.8 439.5,358.8 441.2,352.5 445.0,345.0 448.8,336.2 450.8,328.8 453.0,336.2 455.5,332.5 458.8,340.0 461.2,347.5 465.0,348.0 468.8,345.0 470.8,341.2 472.5,345.0 475.0,341.2 478.8,340.0 482.5,335.5 486.2,326.2 490.0,322.5 494.5,318.8 497.5,325.5 500.0,328.8 503.0,325.0 506.2,328.8 510.0,315.0 512.5,313.8 516.2,315.8 519.5,313.0 522.5,316.2 525.0,321.2 528.8,321.2 532.5,321.2 536.2,335.0 540.0,342.5 542.5,346.2 545.0,343.0 548.8,347.5 552.0,345.0 555.0,350.0 557.5,356.2 561.2,360.0 563.8,358.8 567.0,356.2 570.0,360.0 573.8,363.8 575.0,367.5 578.8,365.0 581.2,363.8 583.8,358.8 586.2,353.8 588.8,352.5 592.5,353.8 596.2,357.5 598.8,352.5 600.0,352.5 603.8,341.2 607.5,331.2 611.2,342.5 614.5,351.2 615.5,356.5" />
<polyline fill="none" stroke="#000" stroke-width="1" stroke-linejoin="round" stroke-linecap="round" points="154.0,336.0 165.0,338.0 175.0,337.5 185.0,342.5 194.0,350.5 200.0,352.0 210.0,348.8 220.0,341.2 232.5,331.2 245.0,322.5 257.5,318.8 265.0,320.0 275.0,322.5 287.5,327.5 300.0,333.8 310.0,338.0 325.0,338.8 335.0,341.2 345.0,342.5 355.0,340.5 370.0,338.8 380.0,337.0 390.0,336.2 395.0,338.0 400.0,342.5 407.5,347.5 417.5,355.0 425.0,356.2 440.0,358.8 450.0,352.5 460.0,348.8 475.0,345.0 485.0,341.2 495.0,336.2 505.0,332.5 515.0,327.5 525.0,322.5 532.5,320.8 540.0,323.0 550.0,327.0 560.0,335.5 570.0,346.2 580.0,353.8 587.5,356.2 597.5,358.8 605.0,356.2 611.0,354.5 615.0,355.0" />
<rect x="59" y="429" width="1.4" height="17" fill="#0000e0"/>
<text x="72" y="443" class="b" textLength="20" lengthAdjust="spacingAndGlyphs">Jan</text>
<rect x="102" y="429" width="1.4" height="17" fill="#0000e0"/>
<text x="117" y="443" class="b" textLength="20" lengthAdjust="spacingAndGlyphs">Feb</text>
<rect x="145" y="429" width="1.4" height="17" fill="#0000e0"/>
<text x="158.75" y="443" class="b" textLength="20" lengthAdjust="spacingAndGlyphs">Mar</text>
<rect x="194" y="429" width="1.4" height="17" fill="#0000e0"/>
<text x="207" y="443" class="b" textLength="18" lengthAdjust="spacingAndGlyphs">Apr</text>
<rect x="238" y="429" width="1.4" height="17" fill="#0000e0"/>
<text x="252" y="443" class="b" textLength="22" lengthAdjust="spacingAndGlyphs">May</text>
<rect x="286" y="429" width="1.4" height="17" fill="#0000e0"/>
<text x="300" y="443" class="b" textLength="19.5" lengthAdjust="spacingAndGlyphs">Jun</text>
<rect x="332" y="429" width="1.4" height="17" fill="#0000e0"/>
<text x="346.25" y="443" class="b" textLength="16" lengthAdjust="spacingAndGlyphs">Jul</text>
<rect x="379" y="429" width="1.4" height="17" fill="#0000e0"/>
<text x="392.5" y="443" class="b" textLength="22.5" lengthAdjust="spacingAndGlyphs">Aug</text>
<rect x="430" y="429" width="1.4" height="17" fill="#0000e0"/>
<text x="445" y="443" class="b" textLength="20.5" lengthAdjust="spacingAndGlyphs">Sep</text>
<rect x="472" y="429" width="1.4" height="17" fill="#0000e0"/>
<text x="487" y="443" class="b" textLength="19" lengthAdjust="spacingAndGlyphs">Oct</text>
<rect x="522" y="429" width="1.4" height="17" fill="#0000e0"/>
<text x="537" y="443" class="b" textLength="22" lengthAdjust="spacingAndGlyphs">Nov</text>
<rect x="570" y="429" width="1.4" height="17" fill="#0000e0"/>
<text x="583.75" y="443" class="b" textLength="22" lengthAdjust="spacingAndGlyphs">Dec</text>
<text x="11" y="457" class="b" textLength="754" lengthAdjust="spacingAndGlyphs">Accum.Index: Look for flagrant non-confirmations, consistently positive/negative readings, AI moves past AI ma and AI bulges &gt;+.46.</text>
</svg></body></html>
